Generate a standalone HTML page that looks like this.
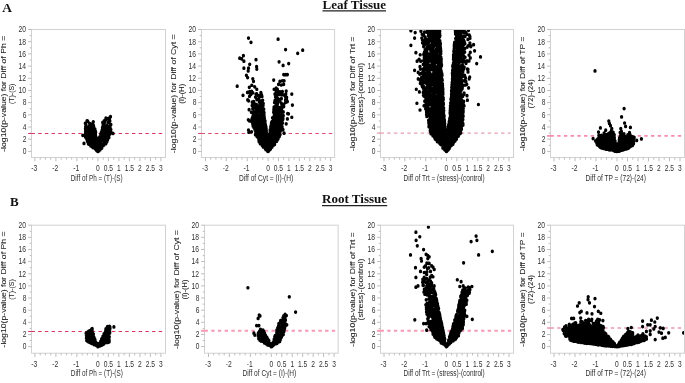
<!DOCTYPE html><html><head><meta charset="utf-8"><title>Volcano plots</title>
<style>html,body{margin:0;padding:0;background:#fff}svg{display:block}text{font-family:"Liberation Sans",sans-serif;fill:#303030}.yl{fill:#222;stroke:#222;stroke-width:0.07px}.t{font-family:"Liberation Serif",serif;font-weight:bold;fill:#111}</style></head><body>
<svg width="685" height="383" viewBox="0 0 685 383">
<rect width="685" height="383" fill="#fff"/>
<g>
<rect x="31.5" y="29.5" width="134" height="128" fill="#fff" stroke="#d2d2d2" stroke-width="1"/>
<path d="M28.1 151.4h3.4M29.7 145.3h1.8M28.1 139.2h3.4M29.7 133.1h1.8M28.1 127h3.4M29.7 120.9h1.8M28.1 114.8h3.4M29.7 108.7h1.8M28.1 102.6h3.4M29.7 96.5h1.8M28.1 90.5h3.4M29.7 84.4h1.8M28.1 78.3h3.4M29.7 72.2h1.8M28.1 66.1h3.4M29.7 60h1.8M28.1 53.9h3.4M29.7 47.8h1.8M28.1 41.7h3.4M29.7 35.6h1.8M28.1 29.5h3.4M34.9 157.5v3.8M40.2 157.5v2.2M45.4 157.5v2.2M50.7 157.5v2.2M55.9 157.5v3.8M61.2 157.5v2.2M66.4 157.5v2.2M71.7 157.5v2.2M76.9 157.5v3.8M82.2 157.5v2.2M87.4 157.5v2.2M92.7 157.5v2.2M97.9 157.5v3.8M103.2 157.5v2.2M108.4 157.5v3.8M113.7 157.5v2.2M118.9 157.5v3.8M124.2 157.5v2.2M129.4 157.5v3.8M134.7 157.5v2.2M139.9 157.5v3.8M145.2 157.5v2.2M150.4 157.5v3.8M155.7 157.5v2.2M160.9 157.5v3.8" stroke="#bdbdbd" stroke-width="1" fill="none"/>
<text x="26.5" y="154.2" font-size="9.6" text-anchor="end" textLength="3.7" lengthAdjust="spacingAndGlyphs">0</text>
<text x="26.5" y="142" font-size="9.6" text-anchor="end" textLength="3.7" lengthAdjust="spacingAndGlyphs">2</text>
<text x="26.5" y="129.8" font-size="9.6" text-anchor="end" textLength="3.7" lengthAdjust="spacingAndGlyphs">4</text>
<text x="26.5" y="117.6" font-size="9.6" text-anchor="end" textLength="3.7" lengthAdjust="spacingAndGlyphs">6</text>
<text x="26.5" y="105.4" font-size="9.6" text-anchor="end" textLength="3.7" lengthAdjust="spacingAndGlyphs">8</text>
<text x="26.1" y="93.3" font-size="9.6" text-anchor="end" textLength="7.5" lengthAdjust="spacingAndGlyphs">10</text>
<text x="26.1" y="81.1" font-size="9.6" text-anchor="end" textLength="7.5" lengthAdjust="spacingAndGlyphs">12</text>
<text x="26.1" y="68.9" font-size="9.6" text-anchor="end" textLength="7.5" lengthAdjust="spacingAndGlyphs">14</text>
<text x="26.1" y="56.7" font-size="9.6" text-anchor="end" textLength="7.5" lengthAdjust="spacingAndGlyphs">16</text>
<text x="26.1" y="44.5" font-size="9.6" text-anchor="end" textLength="7.5" lengthAdjust="spacingAndGlyphs">18</text>
<text x="26.1" y="32.3" font-size="9.6" text-anchor="end" textLength="7.5" lengthAdjust="spacingAndGlyphs">20</text>
<text x="31.3" y="171" font-size="9.6" textLength="6" lengthAdjust="spacingAndGlyphs">-3</text>
<text x="52.3" y="171" font-size="9.6" textLength="6" lengthAdjust="spacingAndGlyphs">-2</text>
<text x="73.3" y="171" font-size="9.6" textLength="6" lengthAdjust="spacingAndGlyphs">-1</text>
<text x="96" y="171" font-size="9.6" textLength="3.7" lengthAdjust="spacingAndGlyphs">0</text>
<text x="103.7" y="171" font-size="9.6" textLength="9.3" lengthAdjust="spacingAndGlyphs">0.5</text>
<text x="117" y="171" font-size="9.6" textLength="3.7" lengthAdjust="spacingAndGlyphs">1</text>
<text x="124.7" y="171" font-size="9.6" textLength="9.3" lengthAdjust="spacingAndGlyphs">1.5</text>
<text x="138" y="171" font-size="9.6" textLength="3.7" lengthAdjust="spacingAndGlyphs">2</text>
<text x="145.7" y="171" font-size="9.6" textLength="9.3" lengthAdjust="spacingAndGlyphs">2.5</text>
<text x="159" y="171" font-size="9.6" textLength="3.7" lengthAdjust="spacingAndGlyphs">3</text>
<text x="70.8" y="180.7" font-size="9.6" textLength="51.8" lengthAdjust="spacingAndGlyphs">Diff of Ph = (T)-(S)</text>
<text transform="translate(5.5 93.8) rotate(-90)" class="yl" x="-58" y="0" font-size="6.5" textLength="116" lengthAdjust="spacingAndGlyphs">-log10(p-value) for Diff of Ph =</text>
<text transform="translate(13.7 93.8) rotate(-90)" class="yl" x="-10.2" y="0" font-size="6.5" textLength="20.4" lengthAdjust="spacingAndGlyphs">(T)-(S)</text>
<path d="M28.1 133.5H31.5M31.5 133.5H165.5" stroke="#d8345f" stroke-width="1.0" stroke-dasharray="3.4 3.3" fill="none"/>
<clipPath id="cT1"><rect x="32" y="30" width="133" height="127"/></clipPath>
<g clip-path="url(#cT1)"><path transform="scale(1 1.12)" d="M87.8 117.7h0M88 113.9h0M93.4 112.9h0M89 115.7h0M85.2 120.3h0M87.1 120.1h0M93.9 113.8h0M94.3 126.9h0M91.8 130.5h0M91.8 125.1h0M88.3 128.2h0M93.7 128.6h0M90.9 126.6h0M94.6 117.9h0M95.5 119.8h0M88.7 125.5h0M86.8 123.2h0M87.4 126.2h0M90.7 124.6h0M89.5 119.6h0M93.4 123.9h0M91.8 123.7h0M94.8 131.8h0M95.8 132h0M90.4 115.5h0M96.8 131.7h0M86.1 121.1h0M94.2 121.5h0M94.9 128.4h0M88 122.4h0M95.6 121.1h0M90.1 116.5h0M96.3 126.6h0M90.3 129.3h0M95.9 128.5h0M88.6 114.9h0M90.8 119.4h0M86.8 116.8h0M89.1 122.5h0M90.9 128.2h0M96.5 123.1h0M92.5 131.2h0M93.8 130.7h0M91.5 120.3h0M89.7 118.2h0M93.1 125.7h0M96.4 123.9h0M86.1 112.3h0M95.9 130.3h0M92 126.5h0M92.5 121.5h0M95.3 124.4h0M91.9 122.6h0M90.7 114h0M97.3 133.2h0M93.7 117.4h0M96.5 130.9h0M96.2 133.5h0M85.6 113.1h0M85.6 116h0M88.8 126.6h0M93.3 115.6h0M93.9 116.4h0M91.8 129.5h0M92.1 111.3h0M92 115.2h0M96.7 125.3h0M91.7 119h0M88.5 123.1h0M85.5 119.4h0M92.7 122.3h0M92 128.4h0M93.5 129.7h0M88.5 121.5h0M90.8 130.3h0M94.1 122.7h0M97.7 134.2h0M92.2 113.4h0M93.2 119.2h0M88.9 128.8h0M95.8 125.6h0M89.6 114h0M90.8 111.3h0M95.4 127.7h0M89.1 124.6h0M87.7 108.1h0M93.3 131.9h0M90.6 123.2h0M94.2 119.9h0M89.5 127.3h0M88 115.8h0M85.5 122.4h0M91.3 121.9h0M85.9 110.8h0M87.1 121.7h0M89.1 113h0M97.2 128.4h0M85.4 115h0M89.8 128.6h0M89.6 112.2h0M85.5 117.6h0M92.6 118.4h0M92.6 130.2h0M92 117h0M88.1 120.2h0M87.5 119.3h0M95.4 122.1h0M92.9 109.7h0M95.3 129.2h0M97.4 130h0M92.8 124.9h0M90.8 125.5h0M87.4 125h0M93.3 127.8h0M86.7 124.2h0M88.7 116.9h0M89.6 121.7h0M94.7 130.6h0M94.4 120.7h0M90.7 118.1h0M90.2 120.7h0M97.5 132.3h0M95.4 117h0M94.9 115.2h0M94.7 126h0M89.9 125.2h0M86.6 114h0M95.7 118h0M96.7 134.4h0M86.7 117.8h0M93.5 112h0M107.8 122.8h0M109.9 116.3h0M107.1 126.2h0M102.1 121.5h0M104.9 118h0M102.6 124.7h0M99.5 130.9h0M103.9 129.5h0M100.4 130.5h0M99.4 125.4h0M107.6 124.8h0M102.6 118.3h0M108.5 114.8h0M102.3 130.6h0M109.1 120.8h0M105.8 128.3h0M106 106.6h0M101.7 123.4h0M110.9 115.7h0M101.8 132.2h0M104.3 127.4h0M109 119.8h0M103.9 116h0M99.1 129.8h0M104.9 121.2h0M105.5 120.2h0M103.3 128.8h0M109.9 108.1h0M99.6 122.5h0M98.7 133.5h0M98.9 131.8h0M100.6 127.8h0M101.2 128.7h0M103.7 117.9h0M104.7 124.1h0M103.4 113.1h0M106.7 116.8h0M110.8 117.7h0M100.7 120.1h0M110.1 118.3h0M107.8 118h0M99.2 123.4h0M105.2 122.4h0M102.5 113.8h0M106.1 118.4h0M102.6 125.8h0M103 111.8h0M104.1 111.8h0M103.8 114h0M100.7 124.3h0M102.5 114.9h0M102.3 119.9h0M99.7 124.2h0M103.3 119.9h0M104.1 119.1h0M106.8 122.7h0M105.5 125.4h0M108.9 122.8h0M100.7 129.6h0M109.3 117.4h0M105.8 116h0M101.2 121.9h0M106.5 127h0M108.3 121.9h0M107.5 119.4h0M105.6 123.1h0M103.3 121.4h0M103.1 116.8h0M98.7 132.6h0M101.9 129.6h0M98.4 126.8h0M107.9 121.1h0M105.2 117.1h0M100.1 133.6h0M105.7 115.1h0M99 127.5h0M101.4 126.1h0M108.9 118.6h0M104.2 120.1h0M101.1 118.7h0M101.8 117.2h0M101.5 131.2h0M108.2 116.8h0M97.9 131.4h0M106.6 113.6h0M110.3 114.7h0M103.4 125.2h0M109.5 112.8h0M98.9 134.7h0M109.4 106.6h0M110.5 111.8h0M100.4 125.2h0M103.8 122.2h0M104.6 128.5h0M105 126.6h0M110 119.5h0M103.9 110h0M102.6 123.4h0M105 109h0M106.6 121.6h0M107.3 123.9h0M108.5 105.7h0M109.6 115.3h0M98.7 126h0M107.1 111.8h0M99.7 132.4h0M108.6 113.7h0M102.2 115.8h0M106.6 120.7h0M104.1 125.8h0M107.4 115.7h0M82.8 120.8h0M113 119.1h0M110.5 104.2h0M109.5 106.3h0M105.9 105.5h0M108.4 109.1h0M102.7 109.3h0M110.9 111.2h0M93.3 108.8h0M87 108h0M85.3 110.1h0M84 128.1h0M89.5 110.1h0M104.2 108h0M97.9 135.2h0M97.9 134.5h0M97.1 134.4h0M98.7 134.4h0M97.9 133.7h0M96.2 133.7h0M99.6 133.7h0M95.4 132.9h0M100.4 132.9h0M97.9 132.9h0M96.9 132.5h0M99 132.5h0" stroke="#000" stroke-width="3.3" stroke-linecap="round" fill="none"/></g>
</g>
<g>
<rect x="201.5" y="29.5" width="133.1" height="128" fill="#fff" stroke="#d2d2d2" stroke-width="1"/>
<path d="M198.1 151.4h3.4M199.7 145.3h1.8M198.1 139.2h3.4M199.7 133.1h1.8M198.1 127h3.4M199.7 120.9h1.8M198.1 114.8h3.4M199.7 108.7h1.8M198.1 102.6h3.4M199.7 96.5h1.8M198.1 90.5h3.4M199.7 84.4h1.8M198.1 78.3h3.4M199.7 72.2h1.8M198.1 66.1h3.4M199.7 60h1.8M198.1 53.9h3.4M199.7 47.8h1.8M198.1 41.7h3.4M199.7 35.6h1.8M198.1 29.5h3.4M205.5 157.5v3.8M210.7 157.5v2.2M215.9 157.5v2.2M221.1 157.5v2.2M226.3 157.5v3.8M231.6 157.5v2.2M236.8 157.5v2.2M242 157.5v2.2M247.2 157.5v3.8M252.4 157.5v2.2M257.6 157.5v2.2M262.8 157.5v2.2M268.1 157.5v3.8M273.3 157.5v2.2M278.5 157.5v3.8M283.7 157.5v2.2M288.9 157.5v3.8M294.1 157.5v2.2M299.3 157.5v3.8M304.5 157.5v2.2M309.8 157.5v3.8M315 157.5v2.2M320.2 157.5v3.8M325.4 157.5v2.2M330.6 157.5v3.8" stroke="#bdbdbd" stroke-width="1" fill="none"/>
<text x="196.5" y="154.2" font-size="9.6" text-anchor="end" textLength="3.7" lengthAdjust="spacingAndGlyphs">0</text>
<text x="196.5" y="142" font-size="9.6" text-anchor="end" textLength="3.7" lengthAdjust="spacingAndGlyphs">2</text>
<text x="196.5" y="129.8" font-size="9.6" text-anchor="end" textLength="3.7" lengthAdjust="spacingAndGlyphs">4</text>
<text x="196.5" y="117.6" font-size="9.6" text-anchor="end" textLength="3.7" lengthAdjust="spacingAndGlyphs">6</text>
<text x="196.5" y="105.4" font-size="9.6" text-anchor="end" textLength="3.7" lengthAdjust="spacingAndGlyphs">8</text>
<text x="196.1" y="93.3" font-size="9.6" text-anchor="end" textLength="7.5" lengthAdjust="spacingAndGlyphs">10</text>
<text x="196.1" y="81.1" font-size="9.6" text-anchor="end" textLength="7.5" lengthAdjust="spacingAndGlyphs">12</text>
<text x="196.1" y="68.9" font-size="9.6" text-anchor="end" textLength="7.5" lengthAdjust="spacingAndGlyphs">14</text>
<text x="196.1" y="56.7" font-size="9.6" text-anchor="end" textLength="7.5" lengthAdjust="spacingAndGlyphs">16</text>
<text x="196.1" y="44.5" font-size="9.6" text-anchor="end" textLength="7.5" lengthAdjust="spacingAndGlyphs">18</text>
<text x="196.1" y="32.3" font-size="9.6" text-anchor="end" textLength="7.5" lengthAdjust="spacingAndGlyphs">20</text>
<text x="201.9" y="171" font-size="9.6" textLength="6" lengthAdjust="spacingAndGlyphs">-3</text>
<text x="222.8" y="171" font-size="9.6" textLength="6" lengthAdjust="spacingAndGlyphs">-2</text>
<text x="243.6" y="171" font-size="9.6" textLength="6" lengthAdjust="spacingAndGlyphs">-1</text>
<text x="266.2" y="171" font-size="9.6" textLength="3.7" lengthAdjust="spacingAndGlyphs">0</text>
<text x="273.8" y="171" font-size="9.6" textLength="9.3" lengthAdjust="spacingAndGlyphs">0.5</text>
<text x="287" y="171" font-size="9.6" textLength="3.7" lengthAdjust="spacingAndGlyphs">1</text>
<text x="294.7" y="171" font-size="9.6" textLength="9.3" lengthAdjust="spacingAndGlyphs">1.5</text>
<text x="307.9" y="171" font-size="9.6" textLength="3.7" lengthAdjust="spacingAndGlyphs">2</text>
<text x="315.5" y="171" font-size="9.6" textLength="9.3" lengthAdjust="spacingAndGlyphs">2.5</text>
<text x="328.7" y="171" font-size="9.6" textLength="3.7" lengthAdjust="spacingAndGlyphs">3</text>
<text x="239" y="180.7" font-size="9.6" textLength="54.2" lengthAdjust="spacingAndGlyphs">Diff of Cyt = (I)-(H)</text>
<text transform="translate(175.5 93.8) rotate(-90)" class="yl" x="-59.4" y="0" font-size="6.5" textLength="118.8" lengthAdjust="spacingAndGlyphs">-log10(p-value) for Diff of Cyt =</text>
<text transform="translate(183.7 93.8) rotate(-90)" class="yl" x="-10" y="0" font-size="6.5" textLength="20" lengthAdjust="spacingAndGlyphs">(I)-(H)</text>
<path d="M198.1 133.5H201.5M201.5 133.5H334.6" stroke="#dc4a6e" stroke-width="1.0" stroke-dasharray="3.4 3.3" fill="none"/>
<clipPath id="cT2"><rect x="202" y="30" width="132.1" height="127"/></clipPath>
<g clip-path="url(#cT2)"><path transform="scale(1 1.12)" d="M265.6 112h0M262.9 109.7h0M263.8 128h0M264.4 118.6h0M264 102.2h0M265.2 127.2h0M257 111.8h0M259.1 126.5h0M267.9 127.8h0M265.8 129h0M258.8 106.9h0M267.1 120.2h0M254.2 106.6h0M263.6 111.4h0M257.8 98.1h0M267.6 132h0M263.1 120.2h0M262.8 98.8h0M258.3 117.1h0M258.5 105.5h0M259.3 103.9h0M263.7 130.4h0M264.4 107h0M260.2 100.3h0M261.3 117.9h0M255.4 120.3h0M261.8 108.9h0M262.1 117.1h0M265.1 108h0M264.2 114.1h0M254.7 111.2h0M264 112.8h0M266.2 114.8h0M262.5 122.6h0M260.6 91.3h0M259.2 94.7h0M255.8 93.2h0M265 113.4h0M265.2 115.7h0M262.9 112.3h0M254.7 114.5h0M264.1 110.3h0M258.1 110.8h0M257 121.8h0M266 119.6h0M267.4 128.5h0M261.4 94.1h0M255.7 113.4h0M263.1 126.6h0M266.7 131.7h0M266.4 116.7h0M268 134.1h0M263.2 116.3h0M258.8 125.1h0M257.3 113.8h0M257 118.5h0M265.4 121.6h0M266 113.4h0M255.7 110.5h0M266.7 121.2h0M267.1 124.9h0M263.1 118.1h0M262 97.7h0M260.5 98.4h0M258.2 116h0M264.8 109.5h0M259.7 107.2h0M267 129.9h0M262.8 107.1h0M263.7 107.7h0M264.4 120h0M258.8 118.5h0M262.7 89.6h0M267.1 132.8h0M258.9 124h0M258.6 122.7h0M257.3 109.5h0M264.4 124.2h0M263 103.7h0M263.1 94.2h0M266.2 125.5h0M259 112.9h0M260.8 113.5h0M267.4 126.9h0M262.1 91.3h0M254.2 108.6h0M255.4 109.2h0M265.2 131.7h0M255.5 108.3h0M261.1 119.9h0M257.5 100.4h0M264.2 117.2h0M260.2 106.3h0M255.4 104.1h0M263.8 97.4h0M267.7 125.8h0M260.3 128.3h0M264.1 115.2h0M252.4 105.2h0M254 92.3h0M258.2 114.9h0M262 95.6h0M267.2 123.1h0M251.7 81.6h0M262 86.1h0M263.4 125.9h0M256.1 105.5h0M255.7 118.9h0M265.2 110.4h0M261.8 125.5h0M264.8 128.2h0M255.7 99h0M259.9 92h0M260.5 104.4h0M259.7 115.6h0M257.6 122.4h0M256.8 99.8h0M262.2 93.4h0M253.8 99.8h0M261.2 90.6h0M263.6 99.5h0M257.2 105.5h0M254.9 103.3h0M263.2 131.2h0M260.1 116.9h0M266.5 128.1h0M266.4 118.5h0M260.1 111.9h0M255.5 86.7h0M261.4 100.7h0M257.5 102.4h0M258.7 109.3h0M260.6 110.1h0M267.2 124.1h0M257 95.1h0M262.4 113.3h0M255.2 116.4h0M261.7 107.9h0M267.8 135.1h0M260.4 102.4h0M266.1 123.1h0M265.5 123.8h0M254.5 107.5h0M256.5 109h0M261.9 110.1h0M259.7 97.3h0M263.9 104.9h0M255.8 112.5h0M259.9 95.8h0M259.2 98.4h0M257.6 96h0M264.2 122.5h0M265.5 126.4h0M262.2 105.2h0M256.8 93.7h0M263.9 121.2h0M254.8 115.4h0M259.5 119.3h0M261.6 99.3h0M262.6 101.1h0M257.2 107h0M259.3 85.3h0M263 129.4h0M265.3 130.2h0M252.9 103.9h0M263.3 101.7h0M262.2 128.7h0M264.4 105.5h0M265.2 118.1h0M258 111.7h0M255.7 114.4h0M261.5 84.5h0M256.8 88.9h0M257.1 117h0M256.7 83.8h0M267.6 131h0M267.9 129.3h0M262.4 124.3h0M258.7 104.6h0M252.7 110.8h0M266.1 133.6h0M262.1 114.1h0M258.2 120.7h0M256.9 119.7h0M260.4 84.8h0M261.1 103.7h0M252.1 108.8h0M261.9 120.4h0M256.2 115.1h0M253 112.4h0M265.1 122.6h0M261 83.7h0M261.3 85.4h0M262.2 102h0M258.6 86h0M261.5 116.5h0M255.1 96.1h0M256 101.3h0M257.9 121.6h0M263 117.1h0M256.8 97.7h0M262.3 115.4h0M260.6 121.3h0M257.1 115.3h0M253.9 113.9h0M259.3 89.5h0M258.1 118h0M260.8 93.2h0M264.2 103.8h0M265.3 132.9h0M258.9 121.6h0M252.7 97.1h0M253.3 109.5h0M260.2 94.4h0M262.4 110.9h0M260.9 82.6h0M253.3 107.7h0M261.3 126.5h0M259.6 110.7h0M253.7 111.7h0M254.7 105.2h0M255.1 107h0M259.1 116.3h0M264.1 100.5h0M259.3 91h0M253.7 90.7h0M267 133.9h0M256.5 102.2h0M259.2 86.9h0M268 133h0M261.5 92.5h0M263.3 92.4h0M262.3 129.9h0M261.1 124h0M264.4 129.6h0M253.2 94.6h0M253.1 101h0M260 112.9h0M275.6 105.1h0M282.1 113.8h0M272.7 113.4h0M270.8 124.4h0M276.5 115.3h0M275.9 111.3h0M278 122.2h0M278.9 83.2h0M269.1 127.1h0M278.1 123.9h0M270.2 127.6h0M272 111.3h0M280.4 99.6h0M276.6 126.2h0M274.6 129h0M275.2 116.6h0M278.7 118.1h0M281.9 93.2h0M273.8 126.3h0M278.5 119.9h0M277.6 92.5h0M283.3 99.9h0M271.5 109.4h0M279 105.3h0M274.8 113.5h0M273.8 97.6h0M279.9 118.4h0M280.1 88.7h0M281 101.7h0M270.6 120.8h0M271.7 129.2h0M271 116.2h0M275.8 121h0M271.6 121.4h0M280.8 112.9h0M274 95.7h0M269.9 133.4h0M274.9 112.1h0M271 129.8h0M271.7 127h0M277.4 117.4h0M279.3 120.9h0M270 118.1h0M273.1 116.3h0M275.3 110h0M270.9 128.8h0M280.4 102.5h0M278.2 116.1h0M271.8 112.7h0M268.5 124.4h0M273.5 105.8h0M272.6 118.2h0M276.2 119.8h0M282 108.5h0M279.2 103.8h0M274.1 121.8h0M271.4 125.5h0M275.2 106.3h0M281.8 84.2h0M275.5 86.6h0M269.6 119.9h0M274.7 126.9h0M281.8 95.7h0M276 82.5h0M278.9 115.4h0M277.3 125h0M268.8 122.4h0M282.1 113h0M271.7 122.4h0M274.6 104.2h0M276.6 86.2h0M270.1 115.9h0M269.9 122.4h0M268.8 129h0M278 98.1h0M271.7 118.5h0M274.8 120.5h0M275.6 123.5h0M278.9 112.6h0M274.2 118.1h0M277.7 109.1h0M276.1 84.4h0M273.7 109.8h0M269.1 126.3h0M272.9 125.3h0M280.4 116.9h0M275.3 114.9h0M274.7 108.3h0M279.2 107.7h0M276.4 90h0M274 116h0M271.8 119.4h0M268.8 131.3h0M273.9 110.8h0M279.2 101.4h0M276.4 94.8h0M272.9 124.2h0M275.9 107.3h0M270.7 113.3h0M274.7 100.1h0M281.4 88.1h0M281.7 97.2h0M273.3 112.7h0M270.9 112.4h0M272.5 105.2h0M278.2 112h0M281.6 110.2h0M278 113.6h0M272 116.2h0M277.2 82.8h0M279.2 111.6h0M277.7 91.6h0M279.6 109.7h0M273.6 100.2h0M277.8 88h0M280.7 98h0M277.9 110.1h0M277.6 83.6h0M271.4 110.6h0M280.1 111.8h0M272.6 123.3h0M280.8 104h0M278.4 99.6h0M274.9 95.5h0M269.8 129.1h0M274.2 115.1h0M272.8 114.5h0M270.4 123.7h0M270.8 117.7h0M276.5 99.6h0M275.6 117.9h0M273.1 121.5h0M275.9 113h0M276.4 103.9h0M281.3 92.1h0M279.3 119.5h0M282.5 109.8h0M281.3 115h0M270.3 118.9h0M279 110.5h0M274.9 89.8h0M280.1 120.2h0M281.6 111.1h0M278.2 89.4h0M279.1 96.2h0M277 85.4h0M276.5 93.2h0M273.1 108.4h0M273.3 129.6h0M274.2 102.9h0M278.5 114.5h0M276.2 81.4h0M279.8 90.1h0M277.6 121.2h0M279.8 116.1h0M278.7 109.6h0M278.1 106.5h0M269.7 125h0M276.7 118.2h0M278.3 123h0M280.4 114.7h0M276.7 96.5h0M274.1 96.6h0M279.6 114.1h0M270.1 116.9h0M277.1 120.3h0M280.1 103.5h0M276.6 110.1h0M270.8 114.1h0M275.3 126.2h0M275.8 100.8h0M276.4 106.5h0M275.7 92.1h0M275.5 98.1h0M269.4 128.1h0M283 105.3h0M272 131.3h0M276.4 112.2h0M273.1 127.4h0M271.6 115.5h0M268.9 123.5h0M276.4 87.5h0M273.9 106.5h0M279.2 106.2h0M274.8 122.5h0M280.1 106.4h0M277.6 103.8h0M277.1 123.9h0M277 116.4h0M277.8 95.3h0M273.1 111.6h0M268.8 130.2h0M277.7 115.4h0M275.7 121.9h0M282.4 107.2h0M270.1 131.2h0M273.4 119.2h0M276.8 101h0M275 124.5h0M283.3 103.2h0M281.1 116.2h0M273.8 99.1h0M276.6 122.7h0M281.9 94.6h0M277 107.3h0M280.6 108.5h0M282.9 106.5h0M280.1 82.1h0M283.6 84.8h0M270.3 125.7h0M274.2 116.9h0M273 120.7h0M272.9 128.7h0M275.8 90.7h0M279.2 108.6h0M274.3 119.3h0M279.3 84.3h0M276.4 83.6h0M271.5 123.6h0M270.9 115h0M279.3 121.8h0M273.3 122.7h0M274.5 91.5h0M272.1 108.5h0M275.5 102.1h0M280.6 95.8h0M252.2 91.2h0M248.3 107h0M247.5 82.5h0M249.6 108h0M251.4 100.3h0M252.1 94.3h0M252 106h0M248.6 90h0M248.8 118.1h0M249.5 86h0M249.1 97.9h0M247.7 89.2h0M250.8 84.3h0M251.5 117.7h0M249.5 82.7h0M285.5 91.5h0M287.4 90.7h0M283.7 93.2h0M286.2 110.6h0M285.3 85.6h0M283.8 95.2h0M286.7 87h0M287.6 101.4h0M288.5 101.6h0M286.4 88h0M283 115.7h0M285.6 86.9h0M287.4 106.2h0M286.8 89.7h0M286.2 81.3h0M285.5 89.4h0M285.8 84h0M248.5 34h0M251 37.8h0M239.7 51.9h0M241.6 52.5h0M243.4 49.7h0M243.9 54.6h0M256 53.3h0M249.7 57.4h0M243.9 60.9h0M248.5 60.9h0M256.6 59.5h0M256.8 61.7h0M248.2 63.3h0M246.4 67.2h0M247.6 69.3h0M252.8 70.4h0M253.5 72.6h0M237.2 76.9h0M251.8 76.1h0M249.3 78h0M254.7 77.5h0M256.8 79.7h0M249.7 81.8h0M252.8 82.9h0M243 85.1h0M256 84h0M248.5 116.1h0M278.1 35h0M285.6 44.3h0M302.7 44.8h0M297.7 47.6h0M279.1 55.2h0M288.7 56.8h0M283.1 58.4h0M283.7 66.6h0M285.8 66.6h0M287.4 66.6h0M273.7 71.5h0M279.9 72.6h0M282.4 72.1h0M284.1 72.1h0M278.5 75.3h0M281.2 75.9h0M283.7 75.3h0M274.1 79.7h0M276.2 78.6h0M277.4 79.7h0M278.5 81.8h0M282.4 81.8h0M291.8 84h0M274.9 84h0M277.4 84.6h0M281.2 84.6h0M292.4 93.8h0M291.8 104.7h0M284.1 118.9h0M268.1 135.2h0M268.1 134.5h0M267.2 134.4h0M268.9 134.4h0M268.1 133.7h0M266.4 133.7h0M269.7 133.7h0M265.5 132.9h0M270.6 132.9h0M268.1 132.9h0M267 132.5h0M269.1 132.5h0" stroke="#000" stroke-width="3.3" stroke-linecap="round" fill="none"/></g>
</g>
<g>
<rect x="380.5" y="29.5" width="133" height="128" fill="#fff" stroke="#d2d2d2" stroke-width="1"/>
<path d="M377.1 151.4h3.4M378.7 145.3h1.8M377.1 139.2h3.4M378.7 133.1h1.8M377.1 127h3.4M378.7 120.9h1.8M377.1 114.8h3.4M378.7 108.7h1.8M377.1 102.6h3.4M378.7 96.5h1.8M377.1 90.5h3.4M378.7 84.4h1.8M377.1 78.3h3.4M378.7 72.2h1.8M377.1 66.1h3.4M378.7 60h1.8M377.1 53.9h3.4M378.7 47.8h1.8M377.1 41.7h3.4M378.7 35.6h1.8M377.1 29.5h3.4M384 157.5v3.8M389.2 157.5v2.2M394.4 157.5v2.2M399.6 157.5v2.2M404.8 157.5v3.8M410 157.5v2.2M415.2 157.5v2.2M420.5 157.5v2.2M425.7 157.5v3.8M430.9 157.5v2.2M436.1 157.5v2.2M441.3 157.5v2.2M446.5 157.5v3.8M451.7 157.5v2.2M456.9 157.5v3.8M462.1 157.5v2.2M467.3 157.5v3.8M472.5 157.5v2.2M477.8 157.5v3.8M483 157.5v2.2M488.2 157.5v3.8M493.4 157.5v2.2M498.6 157.5v3.8M503.8 157.5v2.2M509 157.5v3.8" stroke="#bdbdbd" stroke-width="1" fill="none"/>
<text x="375.5" y="154.2" font-size="9.6" text-anchor="end" textLength="3.7" lengthAdjust="spacingAndGlyphs">0</text>
<text x="375.5" y="142" font-size="9.6" text-anchor="end" textLength="3.7" lengthAdjust="spacingAndGlyphs">2</text>
<text x="375.5" y="129.8" font-size="9.6" text-anchor="end" textLength="3.7" lengthAdjust="spacingAndGlyphs">4</text>
<text x="375.5" y="117.6" font-size="9.6" text-anchor="end" textLength="3.7" lengthAdjust="spacingAndGlyphs">6</text>
<text x="375.5" y="105.4" font-size="9.6" text-anchor="end" textLength="3.7" lengthAdjust="spacingAndGlyphs">8</text>
<text x="375.1" y="93.3" font-size="9.6" text-anchor="end" textLength="7.5" lengthAdjust="spacingAndGlyphs">10</text>
<text x="375.1" y="81.1" font-size="9.6" text-anchor="end" textLength="7.5" lengthAdjust="spacingAndGlyphs">12</text>
<text x="375.1" y="68.9" font-size="9.6" text-anchor="end" textLength="7.5" lengthAdjust="spacingAndGlyphs">14</text>
<text x="375.1" y="56.7" font-size="9.6" text-anchor="end" textLength="7.5" lengthAdjust="spacingAndGlyphs">16</text>
<text x="375.1" y="44.5" font-size="9.6" text-anchor="end" textLength="7.5" lengthAdjust="spacingAndGlyphs">18</text>
<text x="375.1" y="32.3" font-size="9.6" text-anchor="end" textLength="7.5" lengthAdjust="spacingAndGlyphs">20</text>
<text x="380.4" y="171" font-size="9.6" textLength="6" lengthAdjust="spacingAndGlyphs">-3</text>
<text x="401.2" y="171" font-size="9.6" textLength="6" lengthAdjust="spacingAndGlyphs">-2</text>
<text x="422.1" y="171" font-size="9.6" textLength="6" lengthAdjust="spacingAndGlyphs">-1</text>
<text x="444.6" y="171" font-size="9.6" textLength="3.7" lengthAdjust="spacingAndGlyphs">0</text>
<text x="452.2" y="171" font-size="9.6" textLength="9.3" lengthAdjust="spacingAndGlyphs">0.5</text>
<text x="465.5" y="171" font-size="9.6" textLength="3.7" lengthAdjust="spacingAndGlyphs">1</text>
<text x="473.1" y="171" font-size="9.6" textLength="9.3" lengthAdjust="spacingAndGlyphs">1.5</text>
<text x="486.3" y="171" font-size="9.6" textLength="3.7" lengthAdjust="spacingAndGlyphs">2</text>
<text x="493.9" y="171" font-size="9.6" textLength="9.3" lengthAdjust="spacingAndGlyphs">2.5</text>
<text x="507.1" y="171" font-size="9.6" textLength="3.7" lengthAdjust="spacingAndGlyphs">3</text>
<text x="403.5" y="180.7" font-size="9.6" textLength="81.2" lengthAdjust="spacingAndGlyphs">Diff of Trt = (stress)-(control)</text>
<text transform="translate(354.5 93.8) rotate(-90)" class="yl" x="-57.2" y="0" font-size="6.5" textLength="114.5" lengthAdjust="spacingAndGlyphs">-log10(p-value) for Diff of Trt =</text>
<text transform="translate(362.7 93.8) rotate(-90)" class="yl" x="-30.9" y="0" font-size="6.5" textLength="61.7" lengthAdjust="spacingAndGlyphs">(stress)-(control)</text>
<path d="M377.1 133.1H380.5M380.5 133.1H510.5" stroke="#e79fb0" stroke-width="1.4" stroke-dasharray="3.4 3.3" fill="none"/>
<clipPath id="cT3"><rect x="381" y="30" width="132" height="127"/></clipPath>
<g clip-path="url(#cT3)"><path transform="scale(1 1.12)" d="M446.1 127h0M437 51.5h0M442.1 67.2h0M443.3 122.9h0M433.5 60.6h0M442.8 113.5h0M423.8 40h0M435.9 79.7h0M427.6 76.8h0M440.7 44.5h0M441.1 101.1h0M434.1 37.7h0M432.1 86.2h0M445.4 121h0M431.4 51.3h0M428.6 107.5h0M439.9 78.8h0M437.3 126.4h0M441.4 119.3h0M440.8 95.7h0M434.9 109.6h0M443.3 115.3h0M434.8 70.5h0M431.7 35.8h0M425.7 61.2h0M440.1 91.7h0M440.6 83.4h0M437.3 104.8h0M429.9 113.6h0M445.1 117.4h0M432.8 106.9h0M435.1 35.1h0M436.9 119.5h0M439 106.7h0M431.5 72.9h0M430.8 118.3h0M429.9 78.4h0M440.4 114.1h0M437.6 94.2h0M438.4 126.6h0M431.4 70h0M433.4 42.2h0M440.2 116.2h0M438.2 52.6h0M424.5 28.6h0M431.9 115.2h0M433.2 40.5h0M434.5 27.5h0M425.2 51h0M446.3 132.4h0M438.5 70.6h0M441.4 99.7h0M432.5 114.4h0M437.9 82.4h0M434.6 93.8h0M445.1 118.6h0M441.8 98.9h0M435.3 111.9h0M441.8 97.7h0M445 113h0M442.8 105.9h0M442.8 78.8h0M442.9 79.8h0M425.9 46h0M441.6 104.9h0M428.8 91.7h0M436.3 65.7h0M433.3 84.2h0M439.4 24.8h0M442.7 88.3h0M440.8 85.1h0M439.5 95.4h0M443.7 96.4h0M433 119.3h0M435 116.8h0M425.7 89.6h0M431.3 105.8h0M438 99.8h0M437.6 109.2h0M435.4 86.7h0M431.3 101.1h0M436.9 39h0M438.4 116.7h0M433.3 106h0M445.3 115.5h0M442.7 121.7h0M443.8 98.7h0M428.9 37.7h0M442.8 81.3h0M426.8 84.6h0M436.7 60.3h0M443.4 92.1h0M432 110.8h0M438.6 104.6h0M436.6 29.5h0M444.5 107.7h0M440.5 79.8h0M431.2 47.7h0M442.9 95.2h0M437 87.5h0M438.6 108.9h0M426.9 91.5h0M437.3 28.2h0M444 130.4h0M436.3 34.2h0M445.6 130.7h0M425.2 47.3h0M437.5 42.9h0M441.3 129.2h0M429.1 63.8h0M435.7 89.7h0M428.1 52.3h0M443.3 87.4h0M440.9 50.9h0M444.8 110.4h0M438.7 54.8h0M432.7 46.9h0M426.2 69h0M438.9 90.6h0M441.6 102.3h0M432 90h0M429 75h0M424.3 66.3h0M437.8 120.8h0M427.6 92.7h0M440.9 104h0M443.9 104.7h0M442.7 118h0M444.2 103.6h0M441.1 127h0M423.7 54.1h0M439.2 45.5h0M443.7 102h0M430.1 62h0M441.8 94.2h0M442.3 116.1h0M440.1 98.4h0M439.6 26.9h0M436.5 43.4h0M445.7 125.1h0M433.6 98.7h0M429.3 92.3h0M434.3 47.3h0M441.5 107.1h0M435.1 45.9h0M427.9 95h0M435 104.1h0M440.4 103.1h0M433.1 30.9h0M433.8 35h0M431.1 44h0M440.8 77.1h0M438.9 120.5h0M438.6 122.7h0M432.6 102.3h0M440.6 110.6h0M439.7 80.8h0M434.6 91.3h0M436.6 106.9h0M439.7 68.2h0M441.3 63.8h0M443.2 130.7h0M433.3 69.2h0M436.9 48.3h0M438.1 25.2h0M432.5 104h0M433.4 90.5h0M426.5 100.2h0M427.9 57h0M436.2 75.1h0M433.9 77.6h0M441.2 56.4h0M442 70.5h0M439.5 110.6h0M428.4 81.6h0M437.5 74.3h0M431.9 70.9h0M440.4 42.1h0M434.9 113.6h0M436.4 30.9h0M441.9 77.1h0M445.3 125.8h0M425.7 93.6h0M442.3 100.1h0M444.2 124.7h0M436.3 78.8h0M444.8 114.5h0M444.4 118.1h0M438.2 57.7h0M423.5 73.7h0M439.8 50.1h0M435.4 40.3h0M441.6 58.5h0M440.4 93.4h0M443.9 119.7h0M427.2 90.5h0M440.8 62.3h0M440.4 38.8h0M433.6 81.7h0M422.4 75.3h0M443.7 116.9h0M431.7 61.4h0M431.2 29.1h0M439.5 74h0M444.2 112.1h0M427.7 54.6h0M435.5 87.8h0M433.6 62.9h0M445.3 123.1h0M433.8 114.3h0M430.5 98.2h0M434.1 111h0M441.3 52.8h0M430.2 82h0M435.9 117.6h0M428.7 30h0M431.3 36.6h0M439.5 121.3h0M443.2 114.2h0M430.4 42.6h0M441.7 73.2h0M439.6 84.8h0M437.8 119.1h0M434 97.3h0M439.7 28.2h0M433.2 110.7h0M441.5 57.4h0M432.1 28.9h0M436.5 101.9h0M434.3 51.7h0M435.3 115.1h0M432.5 37.5h0M446.3 133.5h0M423.3 78.8h0M434.3 108.5h0M442.3 107.8h0M438.3 106.1h0M446.5 129h0M434.9 83.1h0M435.5 51.7h0M436.3 97.8h0M431.5 88.8h0M435 81.8h0M443.5 97.8h0M432.4 39h0M442.9 112.3h0M437.5 50.6h0M436.8 94.6h0M430.1 108.4h0M431.5 27.9h0M441.9 92.1h0M433.2 43.9h0M429.2 82.8h0M442.3 71.6h0M436.4 122.8h0M438.7 68.9h0M433.9 76.6h0M433.5 113.3h0M435.4 122.4h0M441.5 69.5h0M429 98.7h0M443 123.9h0M444.6 122h0M423.3 61.6h0M427.8 99.3h0M440.4 81.7h0M432.2 67.9h0M436.5 108.2h0M443.3 89h0M432.3 58.5h0M444.1 106.1h0M435.1 26.4h0M441.6 120.4h0M429 65.8h0M441.6 75.5h0M427.8 102.5h0M439.9 104.8h0M440.9 59.4h0M436.9 82h0M426.8 42.4h0M438.9 102.9h0M444.1 109.6h0M442.9 82.5h0M438.3 102h0M430.7 80.4h0M425.3 34h0M424.2 51h0M439.9 86.3h0M445.4 128.9h0M433.4 45.4h0M439.6 41h0M434.3 117.4h0M423.7 48.6h0M441.6 122h0M443.4 93.3h0M429.3 93.3h0M439.6 38.1h0M427.5 43.8h0M430.5 54.2h0M429 51.9h0M441.5 89.4h0M432.8 34.8h0M423.2 57.4h0M429.6 76.8h0M429.7 59.6h0M441.2 65.1h0M444.4 132.9h0M441.6 114.2h0M439.9 92.6h0M440.6 43.6h0M436.4 47.2h0M442.7 104h0M439.6 100.7h0M422.4 71.2h0M429.3 51h0M439.8 37.2h0M429.2 60.7h0M432.8 88.6h0M424.7 94.1h0M431.7 111.7h0M433.4 120.1h0M437.1 103.3h0M433.2 66.8h0M443.3 109h0M433.6 91.6h0M427.6 75.6h0M437.3 106.1h0M435.1 29.6h0M437.2 37.4h0M427.1 96.3h0M440.1 122.6h0M445.3 132.4h0M438 78.7h0M429.9 71.9h0M425.9 88.7h0M432.1 56.1h0M429 100.3h0M426.7 95.4h0M427.3 27.9h0M437.3 121.7h0M437.1 61.9h0M432.1 95.5h0M431.4 93.7h0M440.4 123.9h0M440.7 111.8h0M425.2 33.2h0M440 31.7h0M431.4 74.5h0M438.3 85.4h0M432.3 54.5h0M437.7 123.1h0M445.9 122.2h0M439.1 112h0M440.1 49.1h0M441.5 68.6h0M439.4 60.2h0M429.7 90.4h0M438.6 99.1h0M439.7 44.1h0M438.6 39.5h0M431.3 104.6h0M438.9 67.2h0M423.4 85h0M442.7 127.5h0M433.2 112.2h0M442.8 91h0M431.7 109.6h0M441.2 55h0M433.7 49.7h0M438.5 27.8h0M440.2 125.6h0M436.4 50.2h0M439.7 127.8h0M439.2 61.6h0M430.6 33.5h0M441 92.2h0M434.6 85.9h0M425.6 71.9h0M437.4 40.1h0M444.2 115.8h0M439.7 32.9h0M431.6 102h0M437.5 112.9h0M430.3 100.1h0M430.1 85.8h0M429.2 36.9h0M424.9 80.1h0M440.6 94.2h0M436.8 55.9h0M441 97.1h0M443.4 107.2h0M440.8 109.6h0M443.3 110.2h0M440.9 45.9h0M438.5 79.6h0M430.2 116.3h0M424.6 49.4h0M436.8 73.5h0M432 118.7h0M442.5 74.8h0M435.1 59.2h0M426.5 102.3h0M436 92.4h0M435.1 106.1h0M441.2 82.6h0M422.3 77.3h0M435.5 38.1h0M434.5 56.9h0M439.8 66.3h0M427.3 88.7h0M433.2 105.1h0M442.1 123h0M442.5 111h0M443.2 99.8h0M430.4 92.1h0M434.4 80.8h0M438 113.6h0M437 115.1h0M429.7 112.7h0M438.5 124.3h0M426.3 70.6h0M442.5 77.7h0M425.7 38.6h0M440 118.6h0M440.3 40.1h0M442.4 90.1h0M434.2 39.5h0M443 84.1h0M442 117.1h0M431 119.4h0M440.4 75.3h0M438.5 112.7h0M440.8 91.2h0M427.3 72.5h0M430.6 103h0M430.1 74.5h0M428.8 35.4h0M425.2 55h0M440.1 106.8h0M425.1 44.5h0M440.9 51.7h0M432.3 97.3h0M434.7 31.7h0M427.9 83.5h0M444.3 127.2h0M435.4 64.9h0M434 106.8h0M438.7 125.2h0M435.9 61.3h0M439.9 71.2h0M445.4 128h0M442.4 108.6h0M434.9 53.7h0M440.4 58.6h0M429.8 68.3h0M438.9 32.3h0M438.4 44.1h0M440.7 54.1h0M433.5 48.7h0M430.3 106.9h0M425.2 66.8h0M435.4 95.6h0M434.9 96.5h0M437.5 29.6h0M435.5 78h0M440.3 112.9h0M425.6 97.2h0M423.2 82.5h0M434.9 97.5h0M439.9 82.7h0M433.7 96.5h0M439.3 57h0M431.3 87.2h0M438.6 96.4h0M423.9 80.7h0M435.6 119.2h0M437.5 91.4h0M431.3 34.2h0M430.2 101.5h0M432.2 100.2h0M426.5 37.3h0M437.3 26.8h0M439.3 102.1h0M443.2 125.5h0M434.9 62.9h0M435.1 107h0M432.1 26.3h0M433.9 32.8h0M431 99.3h0M433.7 64.9h0M429.4 89.1h0M444.4 106.9h0M434.3 122.4h0M432.9 43.1h0M441.9 65.8h0M425.8 36.1h0M428.5 40.3h0M424.1 57.2h0M426 53.5h0M434.6 60.2h0M434.5 112.6h0M429.8 26.8h0M434.7 79.7h0M436.7 66.7h0M425.5 74h0M440.1 52.5h0M440.1 55.5h0M433.1 83.3h0M441.3 88.1h0M436.1 71.3h0M442.7 85h0M442.5 119.6h0M443.5 118.7h0M429 30.8h0M442 111.8h0M440 90.2h0M427.2 86.7h0M433 35.9h0M428.7 109.1h0M430.3 25.7h0M431.9 79.9h0M444.1 120.9h0M444.1 123.1h0M438.5 118h0M440.5 70h0M438.8 26.2h0M430.2 69.4h0M437.6 96.2h0M428.3 59.2h0M427.4 68.7h0M435.8 72.2h0M431.1 79.2h0M442.6 101h0M441.3 80.3h0M432.2 117.7h0M439.5 79.9h0M440.1 63.2h0M433 85.7h0M441.9 106.3h0M442.5 86.3h0M432.1 92.8h0M430.2 110.8h0M438.8 72.5h0M439 53.1h0M441.8 74.3h0M438.7 34.6h0M441.8 103.3h0M432.3 33.5h0M439.6 126.6h0M442 124.3h0M426.4 56.9h0M435.3 98.9h0M429.7 28.2h0M436.3 110.8h0M437.9 103.8h0M435.9 114.1h0M425.8 87.6h0M424.3 82.4h0M437.8 67.3h0M435 32.8h0M427.1 94.4h0M440.2 99.5h0M443.6 100.7h0M438.1 84.6h0M441.8 118.5h0M441.9 115.1h0M431.1 62.1h0M424.7 90.3h0M434.1 88.7h0M436.2 54.9h0M435.9 49.3h0M433.3 115.7h0M423.5 71.3h0M435.2 66.3h0M428.6 55h0M440.5 120.8h0M427.5 48.8h0M440 97h0M442.9 102.7h0M442.6 76.4h0M434.6 67.8h0M430.5 115.2h0M444.9 116.6h0M436.4 33.1h0M426.9 46.4h0M427 53.3h0M440.8 47.9h0M433.6 100.2h0M440.2 72.5h0M430.8 40.5h0M427.4 63.5h0M423.9 39.1h0M436.4 63.4h0M434.8 90.4h0M429.4 84.4h0M444.3 129.4h0M440.1 89.2h0M431.8 96.4h0M426.5 67.6h0M441.5 110.2h0M436 99.9h0M438.7 63h0M424.7 58.9h0M433.7 55.3h0M424.3 46.8h0M437.6 44.5h0M431.1 112.5h0M439.4 50.8h0M436.9 70.7h0M425.2 39.4h0M429.5 103.4h0M434.9 69.3h0M433.2 73.4h0M432.8 117.1h0M432.9 121.2h0M431 66.6h0M429.5 73.9h0M436.3 52.6h0M441.8 128h0M429 101.7h0M438.7 36.9h0M437.1 118.6h0M432 52.9h0M429 27.5h0M422.9 66.2h0M425.2 83h0M429 33.2h0M432.6 75.2h0M437.9 30.4h0M438.5 66.2h0M430.4 117.5h0M428.4 67.3h0M433.2 109.7h0M436.7 125.1h0M430 105.8h0M445 124.3h0M435.2 124.2h0M432.4 101h0M439.2 42.4h0M434.9 73.6h0M426.9 28.7h0M429.1 43.1h0M437.3 41.2h0M439.2 114.1h0M434.2 67h0M435.3 68.6h0M431.3 48.5h0M437.4 76.9h0M438.3 56.3h0M435.4 88.9h0M427.9 73.3h0M431.1 108.8h0M435.3 120.5h0M432.4 94.3h0M437.4 107.4h0M434.1 75.7h0M424.2 77.6h0M426.9 36.5h0M424.6 36.8h0M431.8 116.3h0M433.4 94.8h0M426.9 61.7h0M435.6 47.8h0M432 32.7h0M426.1 79.5h0M432.5 91.8h0M426.7 49.7h0M429.7 97.4h0M432.9 82.4h0M433.5 56.2h0M441.9 95.8h0M437.3 110.4h0M429.3 48.4h0M428.9 110.5h0M423.7 69.1h0M446.2 126.1h0M442.7 105.1h0M440.1 107.9h0M430.7 45.2h0M435.6 93.9h0M438 62.4h0M440.3 128.6h0M436.5 112.7h0M438 46.5h0M436.9 86.1h0M435.1 92.7h0M436.9 83.1h0M441 115.3h0M424 53.3h0M439.7 29.6h0M435.5 101.4h0M427.2 78.4h0M439 58.2h0M442.4 109.6h0M444.8 120.1h0M428.9 113.1h0M427.4 35.6h0M438.9 91.7h0M433.7 71.2h0M424.2 61h0M430.5 29.7h0M444.1 111h0M439.3 74.9h0M437.5 98.7h0M440.8 60.5h0M428.2 101h0M424.7 70h0M437.9 63.4h0M426.5 99.2h0M427.5 58.5h0M436.3 115.9h0M434 103.4h0M425 65.7h0M432.4 41.5h0M441 86.4h0M437.9 87.9h0M436.3 28.5h0M437.8 49.6h0M440 119.9h0M438.9 51.6h0M441.1 125.9h0M435.4 112.9h0M442.8 94.1h0M433.6 118.2h0M437.9 64.8h0M442.5 83.2h0M437.3 69.7h0M440.9 70.7h0M424 85.8h0M440.7 71.7h0M426.8 104h0M443.8 113.4h0M432.1 84.8h0M422.9 69.5h0M428 69.6h0M432.7 99.4h0M428.4 31.8h0M438 77.8h0M431.7 31.2h0M430.4 58.4h0M443.1 120.5h0M437.9 54.2h0M438.2 100.9h0M428.4 88.4h0M438.5 29.7h0M441.3 84.3h0M430.4 77.4h0M436.6 36.7h0M426 91h0M423.2 63.6h0M423.6 41.6h0M442.8 132.1h0M429.3 34.7h0M425.6 94.5h0M430.8 60.3h0M439.5 56.2h0M431.3 46.8h0M441.6 112.9h0M440.4 101.7h0M427.4 39.2h0M434.9 102.4h0M433.2 80.2h0M439.8 54.2h0M439.1 98.4h0M436.5 26.2h0M433 78.7h0M436.8 35.5h0M444.4 108.7h0M436.8 92.9h0M438.5 115.3h0M430.1 70.7h0M440.1 61.2h0M426.2 66.4h0M433.2 59.3h0M445 126.7h0M426.8 82.2h0M429.7 79.7h0M432.3 72.5h0M429.9 67.3h0M433.9 46.1h0M439.9 36.4h0M425.6 62.4h0M441.3 66.7h0M441 106.4h0M440.3 121.8h0M433.6 101.9h0M422 76.2h0M433.6 70.2h0M429.4 111.6h0M438.5 94.3h0M434.7 48.8h0M446 124.2h0M430.9 84.8h0M439.6 77.1h0M438.5 41.5h0M431.7 30.1h0M438.7 43.3h0M439.9 109.8h0M430.2 65.8h0M432.6 25.3h0M458.5 87.7h0M454.1 98.5h0M457.3 100.7h0M454.6 37.9h0M464.1 32.4h0M459.4 117.5h0M460.3 69.7h0M452 104.7h0M449.7 110.9h0M451.2 93.5h0M453.2 81.3h0M454.9 122.4h0M457.2 107.9h0M459 56h0M447.9 133.1h0M453.8 85.1h0M457.3 63.4h0M452.1 97.5h0M458.4 105.1h0M455.1 105.2h0M460.4 103.7h0M450 130h0M455.1 99.4h0M457.2 115.3h0M452.4 127.9h0M450.1 115.8h0M450.7 117.1h0M450.6 103.2h0M459.8 102h0M461.6 112.8h0M446.6 127.8h0M457.5 75.7h0M450.6 92h0M452.7 96.6h0M459.5 47.5h0M452.3 100.6h0M456.5 67.8h0M460.9 67.9h0M463.3 45.3h0M451.3 90.3h0M458.6 59.7h0M461.6 58.5h0M455.8 97.5h0M463.5 47.5h0M460.4 60.4h0M460.4 116.4h0M453.6 94h0M448.3 115.3h0M453.9 93.1h0M458.2 45.4h0M458.7 93.9h0M454.2 117.3h0M462.9 64h0M449.1 116.5h0M454 47h0M459 69.5h0M451.5 85.7h0M457.9 110.9h0M457 78h0M454 44.8h0M450.3 102.3h0M454.1 110h0M459.1 36.7h0M463 91.9h0M459.6 104.5h0M448.3 118.7h0M461.6 106.3h0M458.3 81h0M452.7 107.6h0M450.8 118.2h0M456.4 71.3h0M456.5 119.8h0M450.3 104.3h0M450.6 98.2h0M458.4 121.5h0M461.7 38.4h0M450.1 108.5h0M463.2 103.8h0M455.5 26h0M457 34.3h0M450.5 112.9h0M452.5 117.6h0M461.7 73h0M460.5 75.9h0M461.4 100.3h0M464.6 25.9h0M454.2 87.1h0M452.4 101.6h0M455.7 34.3h0M454.4 83.4h0M452.6 68.3h0M462.3 78.2h0M464 29.2h0M451 96.4h0M455.4 53.5h0M453.7 103.9h0M460.9 86.6h0M455.5 124.9h0M457.2 24.8h0M453.7 70.6h0M457.1 92h0M447.3 128.5h0M458 108.4h0M451.8 94.9h0M455.1 117.6h0M460.7 94.6h0M451.4 125h0M455.9 83.6h0M457.7 33h0M455 45.3h0M452.3 93.2h0M456.9 84.2h0M455 115.3h0M455.1 95.3h0M462.5 41.9h0M453.6 99.6h0M449.2 113.3h0M457.6 105.4h0M451.7 78h0M461.4 114.2h0M458.9 88.8h0M452.5 71.4h0M459.4 26.9h0M454 124.5h0M454.7 63h0M452.3 74.5h0M451.8 107.1h0M450.7 106.2h0M449.5 107.5h0M460.2 45.4h0M456.8 52.3h0M461.6 102.7h0M460.6 114.7h0M455.6 37.2h0M464.2 51.7h0M453.4 56.5h0M453.3 61.4h0M461.4 55.1h0M454.7 57.3h0M458.4 43.1h0M459.5 30.9h0M457.2 121.5h0M460.2 49.1h0M450.5 129.1h0M454.3 90.3h0M456.1 112.7h0M462.9 101.9h0M460.3 108.9h0M454.5 79.6h0M455.4 69.5h0M458.4 117.4h0M448.9 128.8h0M448.2 113.9h0M460.9 26.6h0M462.1 104h0M464.3 37.2h0M449.8 119h0M459.2 108.2h0M450.5 120.9h0M453.3 109.3h0M453.7 107.3h0M456.1 95.6h0M453.5 50.5h0M447.4 129.4h0M450.9 100.5h0M455.5 64.8h0M451.6 113.8h0M452.3 110.5h0M462.3 32.4h0M463.3 96.9h0M460.7 111h0M455.3 98.5h0M449.7 106h0M461.4 60.1h0M459.5 37.7h0M453.4 127.5h0M452.8 103.2h0M454.3 39.5h0M454.8 42.1h0M455.6 86h0M460.7 95.7h0M463.5 61.8h0M452.2 90.4h0M459.2 70.5h0M462.8 97.6h0M455.4 111h0M454.5 103.1h0M455 103.9h0M451.5 112.7h0M455.4 103.1h0M455.4 70.8h0M462.7 58.6h0M457.2 27.5h0M454.7 77.6h0M456.5 74.4h0M455 38.7h0M459.6 87.9h0M460.5 47.4h0M447.9 122.7h0M449.1 108.7h0M458.8 40.2h0M446.8 124.8h0M455.6 41.4h0M457 110.1h0M463.9 50.2h0M461.7 89.4h0M456.5 124.2h0M453 88.5h0M448.5 112h0M455.5 116.5h0M448.5 121.4h0M460.6 66.3h0M452.8 58.4h0M461 87.9h0M451 126h0M453.2 97.9h0M463.7 40h0M459 114.3h0M454.3 48.1h0M458.2 101h0M460.7 62.9h0M456.9 83.1h0M455.7 93.8h0M457.1 29h0M461.8 111.3h0M458.2 112.9h0M450 105.1h0M458.9 72.7h0M460.4 81.9h0M460 64.1h0M453.7 106.3h0M458.8 29h0M458.9 100h0M447.8 130.5h0M460.8 118.5h0M461 97.8h0M459.3 100.8h0M460.5 107.3h0M453.4 121.9h0M451 112h0M449.2 132.5h0M462.4 66.5h0M462.4 94h0M451 105.3h0M456.5 72.9h0M458.3 84.6h0M452 111.8h0M455.7 107.4h0M449.8 123.6h0M456.2 80.6h0M458.1 86.9h0M455 52.3h0M459.8 113.6h0M448.7 129.8h0M449.8 112.1h0M453.7 78.5h0M460.6 34.4h0M450.4 94.5h0M455.5 73.3h0M455.5 30.3h0M455.9 39.9h0M456.3 100.4h0M456.6 32h0M453.1 83.3h0M461 41.5h0M457.8 54.6h0M447.3 126.3h0M449 123h0M446.5 131.4h0M450 114.4h0M448.7 126.6h0M460.8 101.4h0M453.7 100.9h0M455.4 27.5h0M459.2 118.6h0M455 68.4h0M458.1 111.8h0M452.6 99.2h0M454.1 113.4h0M462.4 53.2h0M452.3 123.1h0M453.7 126.2h0M457.2 64.4h0M457.3 113.4h0M461.3 36.9h0M451.8 79.6h0M461.4 74.5h0M459.7 62.8h0M452.1 126.2h0M453.5 51.4h0M460.9 91.7h0M463.7 90.6h0M456.6 118.6h0M449.9 131.3h0M448.2 120.7h0M455.7 90h0M459.8 33h0M454.4 119.4h0M458.8 91.9h0M455.4 85h0M460.1 89.1h0M454.8 56.3h0M462.7 55.5h0M456.2 76.3h0M453.9 120.2h0M448.5 125.2h0M457.9 66h0M460.5 61.5h0M452.6 84.7h0M452.2 119.7h0M448 117.9h0M451.4 114.8h0M451.7 109.5h0M459.6 32.1h0M457.3 76.9h0M457.3 58.7h0M457 95.4h0M460 92.8h0M453 114.6h0M462.8 85.9h0M450.9 88.7h0M462.9 38h0M462.6 34.6h0M453.8 96.2h0M460.5 85.6h0M458.1 99.6h0M455 126h0M459.7 95.5h0M450.7 110.1h0M458 93.2h0M459.9 111.9h0M455.4 28.6h0M457.7 51.1h0M453.2 90.9h0M446.7 134.2h0M458.9 34.6h0M458.3 60.5h0M454.2 41h0M455.8 101.8h0M456.2 48.2h0M457.9 44.3h0M457.1 111.2h0M457.2 46.8h0M451.9 82.5h0M452.6 72.7h0M457.5 120.4h0M462.9 106.6h0M449.6 127.4h0M451.8 92.1h0M455.8 77.9h0M453.8 45.8h0M459.3 87h0M450.7 122.6h0M453.9 55h0M456 105.5h0M463 85.1h0M456.9 61.1h0M458.2 47.9h0M452.7 59.3h0M457.3 102h0M458.1 119.2h0M461.4 108.7h0M456.8 104.2h0M451.2 87.5h0M456.1 114.5h0M451.1 123.6h0M451.6 98.7h0M449.2 119.8h0M461.5 46.9h0M457.2 99.5h0M459.5 33.9h0M462.2 48.1h0M463.8 44.3h0M455.3 89.1h0M449 131h0M454.4 88.4h0M456.7 41.4h0M457.5 37.3h0M456.4 89h0M461.3 98.7h0M463.4 92.8h0M452.4 115.2h0M455.8 60.1h0M452.6 87.2h0M460.6 73.8h0M461.7 95.4h0M458.1 69.2h0M457.4 43.3h0M460.7 93.6h0M461.2 49.4h0M455.6 119.2h0M447.1 123.8h0M461.5 115.3h0M456.5 116.1h0M461.3 40.5h0M453.3 74.3h0M460.8 90.3h0M461.3 52.4h0M456.5 123.2h0M452.6 63.3h0M458.3 32h0M453 80.2h0M457 117h0M451.9 75.7h0M457.8 68.1h0M454.2 43h0M456.1 57.7h0M454.9 91.4h0M452.1 73.5h0M448.1 124.4h0M464.1 83.2h0M463.4 76.1h0M455.9 46h0M461.3 28.8h0M458.8 58.8h0M458.2 98.4h0M458.2 97.1h0M463.9 84.2h0M459.1 25.8h0M452.3 65.4h0M453.9 108.6h0M457.4 103.5h0M451.5 120.8h0M453.2 64.5h0M460.1 100.3h0M453.7 69.2h0M461.3 80.4h0M460.8 51.3h0M455.9 108.3h0M456.5 92.6h0M461 77.5h0M460.4 98.5h0M458.7 96.3h0M450 121.6h0M463.3 28.5h0M461.9 59.4h0M458.2 95.1h0M458.1 83.6h0M459.9 40.8h0M453.4 105h0M454.4 61.2h0M447.6 119.6h0M454.8 112.3h0M450.3 99.8h0M448.8 111h0M455.5 51h0M452.2 124.5h0M453.6 72.3h0M454.8 121h0M451.5 83.9h0M459.8 106.7h0M447.2 121.8h0M457.6 118.4h0M458.9 82.4h0M463.9 38.1h0M461 84.4h0M451.5 81.2h0M458.8 90.5h0M449.3 109.7h0M458.1 89.3h0M450.3 124.5h0M458.2 38.1h0M463.2 99.9h0M454.1 58.1h0M459.3 78.1h0M454.5 93.8h0M462.7 43.4h0M446.8 130.3h0M457.3 49.5h0M459.9 102.8h0M451.8 88.6h0M460.9 96.7h0M454.2 63.8h0M454.5 82.5h0M455.6 47.2h0M463.2 98.9h0M461.9 68.8h0M453.4 60.3h0M462.7 109.7h0M455.4 82.1h0M456.8 112.1h0M456 99.5h0M453.4 53h0M456.1 113.5h0M456.9 98.1h0M462.4 60.7h0M452 122.3h0M458.4 74.2h0M455.2 113.7h0M454.2 50h0M458.2 115.7h0M451.5 102.7h0M449.9 117.4h0M455.2 124.1h0M462.1 112h0M459.5 99.1h0M450.6 127.2h0M457.1 71.9h0M458.7 65.5h0M450.7 119.9h0M452.5 120.7h0M458.9 53.4h0M457 38.9h0M455.8 91.4h0M453.7 57.3h0M449.7 126.3h0M453.5 49h0M458.9 103.7h0M463 110.6h0M450.1 98.9h0M454.4 104.6h0M451.5 129.7h0M451.8 103.8h0M452.4 70.4h0M455.7 104.4h0M454.5 106h0M451.4 108.5h0M452.5 66.9h0M460 52.6h0M452.2 127h0M454.3 67.5h0M457.2 60.1h0M457.9 109.7h0M462.2 79.2h0M447.6 127.2h0M458.3 35.9h0M450 100.8h0M454.7 75h0M461 44.1h0M452.8 79.1h0M462.4 44.6h0M456.2 61.7h0M450.4 95.4h0M460.5 36.2h0M458.2 27.6h0M462.1 85.2h0M456.3 87.5h0M453.6 66.5h0M450.3 107h0M462.9 27.1h0M454.4 85.7h0M462 76.5h0M459.3 109.8h0M455.6 109.5h0M462.4 72.2h0M460.7 24.7h0M458.8 46.7h0M457.7 106.3h0M452.9 89.6h0M459.2 42h0M453.8 115.9h0M458.1 91.3h0M460.7 79.6h0M452.4 94.1h0M458.5 107.2h0M456.9 55.1h0M452.9 113.8h0M458 104.3h0M454 114.5h0M459.9 71.1h0M453.3 118.5h0M464.1 72.2h0M454.7 101.9h0M451.4 127.8h0M456.2 102.5h0M450.3 96.9h0M460.1 119.3h0M458.5 66.7h0M452.7 106.3h0M453 116.7h0M452.9 128.8h0M447.9 117h0M452.6 62.4h0M462.7 103h0M452.6 112.7h0M458.3 33.7h0M456.9 106.8h0M463.6 35.8h0M451.6 89.5h0M460.6 30.9h0M420 59.5h0M422.5 38.2h0M418.2 70.5h0M419.7 66.1h0M422.1 30.6h0M422 73.1h0M419.4 82.1h0M420.2 48.9h0M421.8 34h0M420.3 74.4h0M420.9 27.8h0M419.1 52.9h0M420.7 54.6h0M421.5 71.2h0M418.2 64.7h0M422.4 35.7h0M420.4 61.7h0M423.7 31.4h0M421.6 69.1h0M420 71.4h0M421.4 65.4h0M464.1 94.4h0M464.6 67.2h0M468.1 40.9h0M469.2 70.4h0M466.9 30.5h0M470.3 40.5h0M465.7 28.8h0M467.2 42h0M464.5 54.8h0M467.4 89.4h0M467.2 61.6h0M469 54.4h0M465.9 72.7h0M466.8 75.2h0M469.9 38.5h0M465.1 51.1h0M464.8 43.3h0M470 34.1h0M470.3 46.7h0M470.3 51.7h0M467.9 35.2h0M464.8 68.3h0M469.9 32.7h0M468 61.9h0M466 56.5h0M467 54.4h0M469 49.2h0M465.5 75.9h0M469.3 31.3h0M463 111.7h0M469.7 68.9h0M468.6 78.5h0M471.8 25.2h0M468.5 27.1h0M465.5 69.5h0M464.9 38.9h0M465.4 71.9h0M468 64.2h0M465.7 25.3h0M467 85.4h0M470.8 41.6h0M464.7 46.5h0M465.1 32.6h0M464.2 59.9h0M410.9 27.4h0M415.2 29.1h0M414.6 34h0M410.9 40.5h0M415.9 47h0M417.1 54.6h0M414.6 62.8h0M416.3 79.7h0M416.9 92.2h0M420 98.2h0M424 94.4h0M426.9 102h0M480.5 50.8h0M476.7 56.8h0M478.4 93.3h0M473.6 39.9h0M474.6 45.4h0M446.5 135.2h0M446.5 134.5h0M445.7 134.4h0M447.3 134.4h0M446.5 133.7h0M444.8 133.7h0M448.2 133.7h0M444 132.9h0M449 132.9h0M446.5 132.9h0M445.5 132.5h0M447.5 132.5h0" stroke="#000" stroke-width="3.3" stroke-linecap="round" fill="none"/></g>
</g>
<g>
<rect x="550.5" y="29.5" width="134" height="128" fill="#fff" stroke="#d2d2d2" stroke-width="1"/>
<path d="M547.1 151.4h3.4M548.7 145.3h1.8M547.1 139.2h3.4M548.7 133.1h1.8M547.1 127h3.4M548.7 120.9h1.8M547.1 114.8h3.4M548.7 108.7h1.8M547.1 102.6h3.4M548.7 96.5h1.8M547.1 90.5h3.4M548.7 84.4h1.8M547.1 78.3h3.4M548.7 72.2h1.8M547.1 66.1h3.4M548.7 60h1.8M547.1 53.9h3.4M548.7 47.8h1.8M547.1 41.7h3.4M548.7 35.6h1.8M547.1 29.5h3.4M554 157.5v3.8M559.2 157.5v2.2M564.5 157.5v2.2M569.8 157.5v2.2M575 157.5v3.8M580.2 157.5v2.2M585.5 157.5v2.2M590.8 157.5v2.2M596 157.5v3.8M601.2 157.5v2.2M606.5 157.5v2.2M611.8 157.5v2.2M617 157.5v3.8M622.2 157.5v2.2M627.5 157.5v3.8M632.8 157.5v2.2M638 157.5v3.8M643.2 157.5v2.2M648.5 157.5v3.8M653.8 157.5v2.2M659 157.5v3.8M664.2 157.5v2.2M669.5 157.5v3.8M674.8 157.5v2.2M680 157.5v3.8" stroke="#bdbdbd" stroke-width="1" fill="none"/>
<text x="545.5" y="154.2" font-size="9.6" text-anchor="end" textLength="3.7" lengthAdjust="spacingAndGlyphs">0</text>
<text x="545.5" y="142" font-size="9.6" text-anchor="end" textLength="3.7" lengthAdjust="spacingAndGlyphs">2</text>
<text x="545.5" y="129.8" font-size="9.6" text-anchor="end" textLength="3.7" lengthAdjust="spacingAndGlyphs">4</text>
<text x="545.5" y="117.6" font-size="9.6" text-anchor="end" textLength="3.7" lengthAdjust="spacingAndGlyphs">6</text>
<text x="545.5" y="105.4" font-size="9.6" text-anchor="end" textLength="3.7" lengthAdjust="spacingAndGlyphs">8</text>
<text x="545.1" y="93.3" font-size="9.6" text-anchor="end" textLength="7.5" lengthAdjust="spacingAndGlyphs">10</text>
<text x="545.1" y="81.1" font-size="9.6" text-anchor="end" textLength="7.5" lengthAdjust="spacingAndGlyphs">12</text>
<text x="545.1" y="68.9" font-size="9.6" text-anchor="end" textLength="7.5" lengthAdjust="spacingAndGlyphs">14</text>
<text x="545.1" y="56.7" font-size="9.6" text-anchor="end" textLength="7.5" lengthAdjust="spacingAndGlyphs">16</text>
<text x="545.1" y="44.5" font-size="9.6" text-anchor="end" textLength="7.5" lengthAdjust="spacingAndGlyphs">18</text>
<text x="545.1" y="32.3" font-size="9.6" text-anchor="end" textLength="7.5" lengthAdjust="spacingAndGlyphs">20</text>
<text x="550.4" y="171" font-size="9.6" textLength="6" lengthAdjust="spacingAndGlyphs">-3</text>
<text x="571.4" y="171" font-size="9.6" textLength="6" lengthAdjust="spacingAndGlyphs">-2</text>
<text x="592.4" y="171" font-size="9.6" textLength="6" lengthAdjust="spacingAndGlyphs">-1</text>
<text x="615.1" y="171" font-size="9.6" textLength="3.7" lengthAdjust="spacingAndGlyphs">0</text>
<text x="622.8" y="171" font-size="9.6" textLength="9.3" lengthAdjust="spacingAndGlyphs">0.5</text>
<text x="636.1" y="171" font-size="9.6" textLength="3.7" lengthAdjust="spacingAndGlyphs">1</text>
<text x="643.8" y="171" font-size="9.6" textLength="9.3" lengthAdjust="spacingAndGlyphs">1.5</text>
<text x="657.1" y="171" font-size="9.6" textLength="3.7" lengthAdjust="spacingAndGlyphs">2</text>
<text x="664.8" y="171" font-size="9.6" textLength="9.3" lengthAdjust="spacingAndGlyphs">2.5</text>
<text x="678.1" y="171" font-size="9.6" textLength="3.7" lengthAdjust="spacingAndGlyphs">3</text>
<text x="585.6" y="180.7" font-size="9.6" textLength="60.4" lengthAdjust="spacingAndGlyphs">Diff of TP = (72)-(24)</text>
<text transform="translate(524.5 93.8) rotate(-90)" class="yl" x="-57.2" y="0" font-size="6.5" textLength="114.4" lengthAdjust="spacingAndGlyphs">-log10(p-value) for Diff of TP =</text>
<text transform="translate(532.7 93.8) rotate(-90)" class="yl" x="-14.6" y="0" font-size="6.5" textLength="29.2" lengthAdjust="spacingAndGlyphs">(72)-(24)</text>
<path d="M547.1 135.9H550.5M550.5 135.9H684.5" stroke="#f58cab" stroke-width="1.6" stroke-dasharray="3.4 3.3" fill="none"/>
<clipPath id="cT4"><rect x="551" y="30" width="133" height="127"/></clipPath>
<g clip-path="url(#cT4)"><path transform="scale(1 1.12)" d="M601 126.1h0M606.9 125.7h0M611.7 133.7h0M599.7 124.7h0M598.4 125.3h0M610.3 129h0M600.8 128.8h0M607.5 128.3h0M612.2 129h0M609.3 126.8h0M612.7 123.9h0M603.6 129.9h0M612.9 131.8h0M616.5 133.3h0M600.9 123.6h0M610.7 133h0M600.2 130h0M610.4 127.1h0M612.9 128.5h0M610 131.6h0M601.7 128.3h0M614.4 128.6h0M612.9 130.2h0M610.6 124.4h0M612 125.4h0M603 131h0M599.1 128.8h0M596.6 125.3h0M598.2 128.5h0M608.1 129.7h0M608.7 132.1h0M606.2 124.9h0M597 126.9h0M605.1 129.5h0M602.1 125.7h0M603.8 128.2h0M609.2 124.2h0M599.2 129.7h0M609.1 129.7h0M611.8 129.9h0M609.4 128.1h0M600.4 127.6h0M616.8 134.7h0M609.2 133.8h0M604.3 126.7h0M599.8 125.7h0M597.8 127.6h0M615.5 129h0M605.6 124.1h0M605.2 125.2h0M610.8 123.5h0M604.5 132.4h0M611.6 132.6h0M614.7 126.9h0M597.3 129.2h0M604.8 128h0M611.7 122.7h0M597.9 124h0M601.7 126.8h0M603.7 131.6h0M608.1 127.2h0M613.2 126.4h0M602.4 123.5h0M604.2 123.8h0M602.6 131.7h0M603.2 123.1h0M615.9 129.7h0M608.6 128.7h0M606.2 129.6h0M602.1 129.7h0M602.8 127.5h0M610.9 125.2h0M607.5 133.2h0M597.2 124.6h0M607 127.5h0M601.1 131.4h0M608.5 123h0M614 133.5h0M599.8 126.5h0M603.7 129h0M613.8 123.5h0M598.8 126.1h0M615.5 127.9h0M614.9 130.9h0M604.8 122.9h0M603.2 126.3h0M596.8 127.9h0M602.5 124.8h0M612.8 133.3h0M598.8 123.4h0M615.5 132h0M599.8 123.8h0M614.2 129.6h0M611 130.5h0M606 131.3h0M610.9 126.3h0M609.7 125h0M608.1 130.6h0M614.1 126.2h0M604.7 130.5h0M608 125h0M612.7 123h0M611.3 131.4h0M606.2 122.8h0M607.9 123.8h0M605.3 132.1h0M613.5 132.7h0M606.1 133.2h0M613.1 134.1h0M605.8 126.4h0M598.7 127.2h0M614.5 127.8h0M611 128.2h0M613.9 130.8h0M596.7 126.1h0M615.8 130.9h0M608.6 125.8h0M615.1 134.1h0M612.2 131.1h0M606.5 123.9h0M613.2 127.6h0M613.4 125.4h0M601.3 125.1h0M614.4 122.9h0M611.6 123.9h0M615.1 125.9h0M607.2 132.3h0M612 126.4h0M608.8 133h0M603.5 132.6h0M615.2 132.9h0M597.6 126.3h0M611.7 127.1h0M614.3 131.7h0M616.3 132.5h0M614.4 124.7h0M606.5 128.6h0M615.9 134.8h0M607.2 126.6h0M601.1 130.4h0M606 127.8h0M600.1 131.3h0M607.2 124.5h0M606.8 130.6h0M602.6 128.8h0M603.8 125.1h0M607.3 122.8h0M609.4 130.9h0M612.6 124.8h0M598.2 129.7h0M609.9 126.1h0M614.2 134.4h0M609.8 123.2h0M597.5 125.5h0M610.6 133.8h0M605.4 127.2h0M611.9 128h0M599.4 130.5h0M599.1 127.9h0M610.1 129.9h0M599.9 129.2h0M598.7 124.6h0M607.5 131.3h0M612.6 127h0M604.4 125.9h0M613.1 129.3h0M603.1 124.1h0M601.8 124.3h0M609.9 132.4h0M601.7 132.1h0M604.7 124.5h0M604.9 131.4h0M607.3 129.3h0M629.8 128.8h0M619.4 126.5h0M620.3 125.9h0M625.8 125h0M619.3 124.5h0M617.9 133.2h0M626.6 131.6h0M627.1 126.5h0M627.7 128.1h0M619.7 127.8h0M620.8 132.1h0M633.5 127.2h0M620.9 133.7h0M631.7 125.7h0M624.4 129.7h0M624.2 131.3h0M625.1 126.9h0M625.9 122.4h0M626.2 127.3h0M626.3 129.6h0M620.2 129h0M633.1 125.3h0M623.1 124.9h0M628 123.6h0M632.3 127h0M621.6 123.8h0M620 123.8h0M621.6 132.8h0M626.4 130.4h0M631.5 130.1h0M632.9 129h0M633.6 126.3h0M627.5 129.3h0M624 128.5h0M629.6 127.8h0M627.3 122.5h0M621.8 134.1h0M626.8 123.4h0M623.1 133.8h0M630.2 126.6h0M629.3 126.6h0M621 124.8h0M631.7 123.5h0M630.6 123.7h0M632.4 124.8h0M622.5 126.7h0M631.1 127.6h0M623.3 127.4h0M624.4 132.1h0M625.4 133h0M623.1 123.4h0M627.6 132.5h0M622.3 128.5h0M623.4 132.6h0M624 126.4h0M629.4 131.3h0M620.3 134.4h0M624.5 127.5h0M619.2 131.6h0M630.1 124.7h0M628.6 125.8h0M617.8 131.4h0M627.6 125.2h0M626.2 125.8h0M629.3 124.3h0M619.3 125.4h0M622.4 132.3h0M622.1 130.8h0M630.6 129.9h0M628.3 127.4h0M622.8 125.7h0M628.1 130.5h0M621.8 125.7h0M629.3 122.8h0M631.7 129h0M628.4 129.2h0M622.8 130h0M620.7 130.9h0M623.6 130.5h0M631.4 126.6h0M617.9 134.6h0M630.7 129h0M624 123.2h0M619.2 133.7h0M619.4 129.8h0M626.6 128.1h0M631.2 125h0M618.2 130.5h0M618.7 129h0M626 123.9h0M624.7 124.2h0M630.3 130.9h0M621 126.8h0M629.4 129.9h0M622.2 124.5h0M633.6 128.2h0M630.7 125.7h0M621.9 129.7h0M624.9 128.9h0M621.3 128.6h0M623.2 129h0M629.4 125.2h0M625 122.8h0M619.5 123h0M622.9 131.4h0M619.6 130.8h0M621.6 122.9h0M627.8 124.4h0M626.6 132.9h0M619.6 132.7h0M632.6 129.8h0M625.1 130.6h0M624.4 125h0M617.3 133.9h0M621.7 127.3h0M617.6 132.2h0M622.9 122.6h0M625.3 128h0M625.3 131.8h0M627.3 127.3h0M632.5 128.1h0M624 133.4h0M618.6 128.1h0M627.8 131.7h0M618.6 132.6h0M628.3 122.6h0M628.1 126.6h0M628.8 132h0M620.5 122.6h0M621.4 131.5h0M628.5 125h0M618.8 134.7h0M632.6 126.2h0M620.7 128h0M618.9 127.3h0M625.3 129.8h0M621 130h0M626.6 124.6h0M622.4 133.3h0M625.2 125.7h0M630.4 128.2h0M623.8 124.3h0M628.9 128.3h0M620.1 125h0M610.6 120.7h0M608.9 119h0M598.9 120.8h0M603.9 122.1h0M606.9 121.3h0M604.1 118.8h0M613.4 119.5h0M611.3 116.9h0M614.3 120.3h0M612.2 120h0M601.3 120.8h0M612.7 119h0M609.1 122h0M605.6 120.2h0M604.5 120.7h0M602.9 121.4h0M601.6 122.9h0M613.2 118.1h0M600.5 121.5h0M610.3 118.5h0M608 119.8h0M604.8 119.9h0M632.5 122.2h0M628.9 121.1h0M620.5 120.9h0M629.5 118.5h0M627.8 120.4h0M630 120.2h0M631 121.5h0M624 119.6h0M633.6 124.1h0M623.4 121.7h0M621.7 119.4h0M624.8 121.8h0M621.4 117.3h0M629.2 121.9h0M622.8 120.2h0M620.1 118.3h0M595 63.3h0M624.1 96.9h0M621.6 104.4h0M624.6 109.8h0M625.6 112.9h0M630.4 113.8h0M620.8 114.9h0M641.4 124h0M636.7 125.4h0M634.2 122.7h0M593.1 123.7h0M598.5 117.9h0M600.4 114.2h0M608.8 108.1h0M609.4 110.2h0M610.5 112.2h0M611.8 114.9h0M605.7 116.2h0M595.6 125.9h0M617 135.2h0M614.9 135h0M619.1 135h0" stroke="#000" stroke-width="3.3" stroke-linecap="round" fill="none"/></g>
</g>
<g>
<rect x="31.5" y="225.2" width="134" height="128" fill="#fff" stroke="#d2d2d2" stroke-width="1"/>
<path d="M28.1 346.6h3.4M29.7 340.5h1.8M28.1 334.5h3.4M29.7 328.4h1.8M28.1 322.3h3.4M29.7 316.2h1.8M28.1 310.2h3.4M29.7 304.1h1.8M28.1 298h3.4M29.7 292h1.8M28.1 285.9h3.4M29.7 279.8h1.8M28.1 273.8h3.4M29.7 267.7h1.8M28.1 261.6h3.4M29.7 255.6h1.8M28.1 249.5h3.4M29.7 243.4h1.8M28.1 237.3h3.4M29.7 231.3h1.8M28.1 225.2h3.4M34.9 353.2v3.8M40.2 353.2v2.2M45.4 353.2v2.2M50.7 353.2v2.2M55.9 353.2v3.8M61.2 353.2v2.2M66.4 353.2v2.2M71.7 353.2v2.2M76.9 353.2v3.8M82.2 353.2v2.2M87.4 353.2v2.2M92.7 353.2v2.2M97.9 353.2v3.8M103.2 353.2v2.2M108.4 353.2v3.8M113.7 353.2v2.2M118.9 353.2v3.8M124.2 353.2v2.2M129.4 353.2v3.8M134.7 353.2v2.2M139.9 353.2v3.8M145.2 353.2v2.2M150.4 353.2v3.8M155.7 353.2v2.2M160.9 353.2v3.8" stroke="#bdbdbd" stroke-width="1" fill="none"/>
<text x="26.5" y="349.4" font-size="9.6" text-anchor="end" textLength="3.7" lengthAdjust="spacingAndGlyphs">0</text>
<text x="26.5" y="337.3" font-size="9.6" text-anchor="end" textLength="3.7" lengthAdjust="spacingAndGlyphs">2</text>
<text x="26.5" y="325.1" font-size="9.6" text-anchor="end" textLength="3.7" lengthAdjust="spacingAndGlyphs">4</text>
<text x="26.5" y="313" font-size="9.6" text-anchor="end" textLength="3.7" lengthAdjust="spacingAndGlyphs">6</text>
<text x="26.5" y="300.8" font-size="9.6" text-anchor="end" textLength="3.7" lengthAdjust="spacingAndGlyphs">8</text>
<text x="26.1" y="288.7" font-size="9.6" text-anchor="end" textLength="7.5" lengthAdjust="spacingAndGlyphs">10</text>
<text x="26.1" y="276.6" font-size="9.6" text-anchor="end" textLength="7.5" lengthAdjust="spacingAndGlyphs">12</text>
<text x="26.1" y="264.4" font-size="9.6" text-anchor="end" textLength="7.5" lengthAdjust="spacingAndGlyphs">14</text>
<text x="26.1" y="252.3" font-size="9.6" text-anchor="end" textLength="7.5" lengthAdjust="spacingAndGlyphs">16</text>
<text x="26.1" y="240.1" font-size="9.6" text-anchor="end" textLength="7.5" lengthAdjust="spacingAndGlyphs">18</text>
<text x="26.1" y="228" font-size="9.6" text-anchor="end" textLength="7.5" lengthAdjust="spacingAndGlyphs">20</text>
<text x="31.3" y="366.7" font-size="9.6" textLength="6" lengthAdjust="spacingAndGlyphs">-3</text>
<text x="52.3" y="366.7" font-size="9.6" textLength="6" lengthAdjust="spacingAndGlyphs">-2</text>
<text x="73.3" y="366.7" font-size="9.6" textLength="6" lengthAdjust="spacingAndGlyphs">-1</text>
<text x="96" y="366.7" font-size="9.6" textLength="3.7" lengthAdjust="spacingAndGlyphs">0</text>
<text x="103.7" y="366.7" font-size="9.6" textLength="9.3" lengthAdjust="spacingAndGlyphs">0.5</text>
<text x="117" y="366.7" font-size="9.6" textLength="3.7" lengthAdjust="spacingAndGlyphs">1</text>
<text x="124.7" y="366.7" font-size="9.6" textLength="9.3" lengthAdjust="spacingAndGlyphs">1.5</text>
<text x="138" y="366.7" font-size="9.6" textLength="3.7" lengthAdjust="spacingAndGlyphs">2</text>
<text x="145.7" y="366.7" font-size="9.6" textLength="9.3" lengthAdjust="spacingAndGlyphs">2.5</text>
<text x="159" y="366.7" font-size="9.6" textLength="3.7" lengthAdjust="spacingAndGlyphs">3</text>
<text x="70.8" y="376.4" font-size="9.6" textLength="52" lengthAdjust="spacingAndGlyphs">Diff of Ph = (T)-(S)</text>
<text transform="translate(5.5 289.5) rotate(-90)" class="yl" x="-58" y="0" font-size="6.5" textLength="116" lengthAdjust="spacingAndGlyphs">-log10(p-value) for Diff of Ph =</text>
<text transform="translate(13.7 289.5) rotate(-90)" class="yl" x="-10.2" y="0" font-size="6.5" textLength="20.4" lengthAdjust="spacingAndGlyphs">(T)-(S)</text>
<path d="M28.1 331.5H31.5M31.5 331.5H165.5" stroke="#d8345f" stroke-width="1.0" stroke-dasharray="3.4 3.3" fill="none"/>
<clipPath id="cB1"><rect x="32" y="225.7" width="133" height="127"/></clipPath>
<g clip-path="url(#cB1)"><path transform="scale(1 1.12)" d="M92.3 299.3h0M90.6 304.8h0M92 301.5h0M89.4 303.8h0M89.7 296.1h0M93.3 299.8h0M90 301.2h0M90.7 297.7h0M97.7 309.2h0M88.3 302.7h0M91.6 304.4h0M92.9 301.6h0M90.6 303.8h0M90.5 298.5h0M96.1 308.2h0M94.2 306.7h0M89.5 300h0M86.7 300.5h0M91.2 294.6h0M92.8 297.6h0M95.1 303.6h0M93.2 299h0M94 302.1h0M92.1 296.7h0M90.1 295.2h0M95 306.1h0M87.4 297.5h0M89 305.3h0M91.4 302.4h0M92.2 295.5h0M95 307.6h0M91.5 306.5h0M93.3 303h0M87.1 302.8h0M93.7 305.2h0M91 295.7h0M87.8 303.5h0M89.6 302.8h0M88.3 300.1h0M87.9 304.8h0M95.1 305.1h0M88.7 296.9h0M91.6 305.3h0M92.7 305.5h0M92.1 294.6h0M86.7 304h0M86.4 299.6h0M89.9 302.1h0M94 304.1h0M96.3 306.8h0M87.6 298.9h0M88.7 298.5h0M91.7 297.8h0M89.5 297.8h0M91.2 299.4h0M94.8 302.8h0M92.2 300.5h0M92.3 303.5h0M88.4 301.7h0M87.3 301.5h0M94 301.2h0M88.9 295.7h0M90.5 302.7h0M86.6 298.7h0M93 306.6h0M91 296.8h0M90 305.7h0M97 308.6h0M89.6 299h0M90.5 300.1h0M92.4 302.6h0M94 307.7h0M88.7 299.4h0M91 301.2h0M88.4 297.7h0M88 296.3h0M95.9 305.6h0M92.8 304.5h0M87.4 299.8h0M89.7 297.1h0M88.8 304.4h0M89.2 300.9h0M96.9 307.7h0M86.4 302h0M87.6 300.7h0M86.4 297.8h0M93.4 298.2h0M91.4 303.3h0M91.6 298.6h0M91.7 293.8h0M93.2 300.8h0M109.2 304.3h0M106.3 299.9h0M102.8 301.3h0M107.8 304.9h0M100.7 304.7h0M109.3 300.7h0M106.5 294.5h0M103.2 304.3h0M107.3 300.6h0M105.7 295h0M104.9 302.2h0M105.6 296.3h0M104 298.1h0M101.9 305h0M108 297.4h0M109.1 292.6h0M108.8 299.5h0M106.7 298.6h0M108.8 297h0M106.1 305.8h0M108.2 292h0M108.4 294.9h0M102 306.9h0M104.9 301h0M104.2 304.8h0M104.8 303.4h0M107.7 294.1h0M104.8 306.1h0M103 303h0M106.6 301.5h0M107 297.4h0M103.8 301.4h0M103.3 302.2h0M104.1 299.3h0M100.8 307.4h0M101.5 303.1h0M109.5 294.1h0M103 306.5h0M107 292.7h0M106.6 303.6h0M104.4 300.3h0M108.9 301.6h0M100.9 308.3h0M107.9 299.2h0M99.6 307h0M106 299.2h0M109.2 297.9h0M105.3 304.6h0M107.6 302.7h0M108.3 298.3h0M102.7 307.6h0M108.4 293.2h0M105.1 297h0M103.4 305.5h0M108.2 303.7h0M103.9 306.6h0M105.6 303h0M98.6 308.4h0M108.3 300.1h0M109.2 291.5h0M109.1 302.8h0M107.6 301.7h0M106.9 295.7h0M107.8 305.7h0M103.5 307.3h0M108.5 295.8h0M100.8 306.1h0M107 293.5h0M107 299.5h0M99.6 308.1h0M106.5 304.8h0M109.8 297h0M105.3 298.4h0M108 296.6h0M103.7 303.5h0M109.7 295.3h0M102.9 300.2h0M106.1 297.7h0M105.9 293.6h0M106.6 302.4h0M101.8 304.1h0M101.8 308.1h0M102 302.2h0M99.7 308.9h0M109.2 305.2h0M106.7 296.6h0M110 293.3h0M105.1 299.4h0M107.5 291.5h0M109.4 296.2h0M105.7 301.8h0M104 302.7h0M110 292h0M107.4 295h0M102.2 305.9h0M108.1 301h0M113.9 291.9h0M109.5 291.3h0M92.2 293.5h0M86.1 297.5h0M97.9 309.5h0M97.9 308.8h0M97.1 308.7h0M98.7 308.7h0M97.9 307.9h0M96.2 307.9h0M99.6 307.9h0M95.4 307.2h0M100.4 307.2h0M97.9 307.2h0M96.9 306.8h0M99 306.8h0" stroke="#000" stroke-width="3.3" stroke-linecap="round" fill="none"/></g>
</g>
<g>
<rect x="204.5" y="225.2" width="133.6" height="128" fill="#fff" stroke="#d2d2d2" stroke-width="1"/>
<path d="M201.1 346.6h3.4M202.7 340.5h1.8M201.1 334.5h3.4M202.7 328.4h1.8M201.1 322.3h3.4M202.7 316.2h1.8M201.1 310.2h3.4M202.7 304.1h1.8M201.1 298h3.4M202.7 292h1.8M201.1 285.9h3.4M202.7 279.8h1.8M201.1 273.8h3.4M202.7 267.7h1.8M201.1 261.6h3.4M202.7 255.6h1.8M201.1 249.5h3.4M202.7 243.4h1.8M201.1 237.3h3.4M202.7 231.3h1.8M201.1 225.2h3.4M208.5 353.2v3.8M213.7 353.2v2.2M219 353.2v2.2M224.2 353.2v2.2M229.4 353.2v3.8M234.7 353.2v2.2M239.9 353.2v2.2M245.1 353.2v2.2M250.4 353.2v3.8M255.6 353.2v2.2M260.8 353.2v2.2M266.1 353.2v2.2M271.3 353.2v3.8M276.5 353.2v2.2M281.8 353.2v3.8M287 353.2v2.2M292.2 353.2v3.8M297.5 353.2v2.2M302.7 353.2v3.8M307.9 353.2v2.2M313.2 353.2v3.8M318.4 353.2v2.2M323.6 353.2v3.8M328.9 353.2v2.2M334.1 353.2v3.8" stroke="#bdbdbd" stroke-width="1" fill="none"/>
<text x="199.5" y="349.4" font-size="9.6" text-anchor="end" textLength="3.7" lengthAdjust="spacingAndGlyphs">0</text>
<text x="199.5" y="337.3" font-size="9.6" text-anchor="end" textLength="3.7" lengthAdjust="spacingAndGlyphs">2</text>
<text x="199.5" y="325.1" font-size="9.6" text-anchor="end" textLength="3.7" lengthAdjust="spacingAndGlyphs">4</text>
<text x="199.5" y="313" font-size="9.6" text-anchor="end" textLength="3.7" lengthAdjust="spacingAndGlyphs">6</text>
<text x="199.5" y="300.8" font-size="9.6" text-anchor="end" textLength="3.7" lengthAdjust="spacingAndGlyphs">8</text>
<text x="199.1" y="288.7" font-size="9.6" text-anchor="end" textLength="7.5" lengthAdjust="spacingAndGlyphs">10</text>
<text x="199.1" y="276.6" font-size="9.6" text-anchor="end" textLength="7.5" lengthAdjust="spacingAndGlyphs">12</text>
<text x="199.1" y="264.4" font-size="9.6" text-anchor="end" textLength="7.5" lengthAdjust="spacingAndGlyphs">14</text>
<text x="199.1" y="252.3" font-size="9.6" text-anchor="end" textLength="7.5" lengthAdjust="spacingAndGlyphs">16</text>
<text x="199.1" y="240.1" font-size="9.6" text-anchor="end" textLength="7.5" lengthAdjust="spacingAndGlyphs">18</text>
<text x="199.1" y="228" font-size="9.6" text-anchor="end" textLength="7.5" lengthAdjust="spacingAndGlyphs">20</text>
<text x="204.9" y="366.7" font-size="9.6" textLength="6" lengthAdjust="spacingAndGlyphs">-3</text>
<text x="225.8" y="366.7" font-size="9.6" textLength="6" lengthAdjust="spacingAndGlyphs">-2</text>
<text x="246.8" y="366.7" font-size="9.6" textLength="6" lengthAdjust="spacingAndGlyphs">-1</text>
<text x="269.4" y="366.7" font-size="9.6" textLength="3.7" lengthAdjust="spacingAndGlyphs">0</text>
<text x="277.1" y="366.7" font-size="9.6" textLength="9.3" lengthAdjust="spacingAndGlyphs">0.5</text>
<text x="290.4" y="366.7" font-size="9.6" textLength="3.7" lengthAdjust="spacingAndGlyphs">1</text>
<text x="298" y="366.7" font-size="9.6" textLength="9.3" lengthAdjust="spacingAndGlyphs">1.5</text>
<text x="311.3" y="366.7" font-size="9.6" textLength="3.7" lengthAdjust="spacingAndGlyphs">2</text>
<text x="319" y="366.7" font-size="9.6" textLength="9.3" lengthAdjust="spacingAndGlyphs">2.5</text>
<text x="332.2" y="366.7" font-size="9.6" textLength="3.7" lengthAdjust="spacingAndGlyphs">3</text>
<text x="242.5" y="376.4" font-size="9.6" textLength="53.8" lengthAdjust="spacingAndGlyphs">Diff of Cyt = (I)-(H)</text>
<text transform="translate(178.5 289.5) rotate(-90)" class="yl" x="-59.4" y="0" font-size="6.5" textLength="118.8" lengthAdjust="spacingAndGlyphs">-log10(p-value) for Diff of Cyt =</text>
<text transform="translate(186.7 289.5) rotate(-90)" class="yl" x="-10" y="0" font-size="6.5" textLength="20" lengthAdjust="spacingAndGlyphs">(I)-(H)</text>
<path d="M201.1 330.8H204.5M204.5 330.8H338.1" stroke="#f79ab4" stroke-width="1.9" stroke-dasharray="3.4 3.3" fill="none"/>
<clipPath id="cB2"><rect x="205" y="225.7" width="132.6" height="127"/></clipPath>
<g clip-path="url(#cB2)"><path transform="scale(1 1.12)" d="M264.7 297.6h0M265.3 304.9h0M262.6 296.9h0M263.7 296.7h0M260 300.6h0M260.9 296.6h0M265.5 301.2h0M263.3 300.4h0M264.7 298.6h0M258.6 296.9h0M270.6 308.6h0M269.1 306.1h0M264.1 304.3h0M261.9 295.2h0M258.7 302.4h0M263 294.7h0M260.5 294.1h0M261.6 301h0M268 305.9h0M267.8 302.7h0M259.5 295.8h0M268.5 307h0M264.5 300.7h0M259.2 299h0M260.4 295.4h0M266.1 306.9h0M263 303.3h0M266.7 303.2h0M262.1 298.3h0M267 301.5h0M261 303.3h0M265.2 302.8h0M263.4 304.9h0M258.2 300h0M269.7 307.6h0M268.9 304.2h0M265.5 299.5h0M260.7 299h0M263.6 301.6h0M269.7 308.5h0M264.3 306.1h0M260 301.8h0M261.8 299.6h0M258.2 297.8h0M261.1 302.1h0M267.7 308h0M263.9 295.9h0M262.6 301h0M263.2 297.6h0M266.3 305.9h0M266 300.4h0M261.6 297.6h0M261 300.3h0M259.9 303.7h0M261.1 304.5h0M264.6 299.7h0M262.8 299.1h0M259.2 300.9h0M262.2 301.9h0M265.6 302h0M260.3 298.2h0M284.8 292.5h0M283.5 292.6h0M277.3 302.2h0M280.6 286.2h0M279.9 291.8h0M281.6 298.4h0M281.9 290.2h0M276.7 296.7h0M278.9 296.7h0M277.2 296h0M273.1 305.8h0M285 291.3h0M285 284.3h0M281.2 299.5h0M273.8 307.5h0M281.6 300.7h0M284 285.3h0M274.7 300.7h0M277.7 292.7h0M283.5 291.2h0M279.8 288.4h0M280.7 296.5h0M279.7 304.8h0M282.9 285.7h0M277.8 298.6h0M276.3 304.4h0M284.6 288.2h0M282.1 292.4h0M282.9 288.1h0M276 306.9h0M278.6 290.8h0M282.1 286.2h0M280 301.1h0M285.2 289.4h0M277.3 305.2h0M284 289.8h0M277.8 296.5h0M274.8 307h0M280.8 302h0M285.5 285.9h0M278.2 304h0M283.2 287.2h0M283.3 295.2h0M273.2 308.3h0M279 300.2h0M276.5 300.7h0M280.1 293.8h0M280.2 295h0M282.1 296.5h0M285.2 282.8h0M283.3 298.6h0M277.7 299.9h0M277.6 294.4h0M275.3 301.9h0M283.4 296.8h0M284.4 294.3h0M276.8 294.8h0M279.4 298.4h0M278.5 305.3h0M278.8 289h0M275.2 303.4h0M283.7 281.9h0M275.2 299.6h0M274.2 303.8h0M277.8 301.4h0M273.5 306.7h0M282.6 293.8h0M284.1 286.5h0M274.1 302.9h0M279.5 297.4h0M282.9 283.7h0M285 287.3h0M282.3 299.4h0M281.7 289h0M281.5 287.7h0M280.9 291.5h0M281.1 297.4h0M276.9 297.9h0M277 299.1h0M275.5 304.8h0M278.5 293.2h0M280.3 303.3h0M274.6 305.4h0M276.9 306.6h0M276.2 303.2h0M283.9 295.9h0M279.8 299.2h0M279.2 303.9h0M282.8 291.7h0M279.1 302.9h0M279.4 295.7h0M278.9 291.7h0M272.6 307.4h0M278.8 301.1h0M271.9 309.3h0M284.4 283.1h0M273.9 304.7h0M278.4 295h0M281.7 294.9h0M280.6 300.2h0M253.9 297.5h0M254.8 299.2h0M256.6 290.7h0M258.9 290.7h0M258.1 284.3h0M259.2 281.3h0M260 282.1h0M247.9 256.9h0M289.3 265h0M295.6 278.6h0M286.4 281.8h0M285.1 280.7h0M286.8 290h0M271.3 309.5h0M271.3 308.8h0M270.5 308.7h0M272.1 308.7h0M271.3 307.9h0M269.6 307.9h0M273 307.9h0M268.8 307.2h0M273.8 307.2h0M271.3 307.2h0M270.3 306.8h0M272.3 306.8h0" stroke="#000" stroke-width="3.3" stroke-linecap="round" fill="none"/></g>
</g>
<g>
<rect x="380.5" y="225.2" width="133" height="128" fill="#fff" stroke="#d2d2d2" stroke-width="1"/>
<path d="M377.1 346.6h3.4M378.7 340.5h1.8M377.1 334.5h3.4M378.7 328.4h1.8M377.1 322.3h3.4M378.7 316.2h1.8M377.1 310.2h3.4M378.7 304.1h1.8M377.1 298h3.4M378.7 292h1.8M377.1 285.9h3.4M378.7 279.8h1.8M377.1 273.8h3.4M378.7 267.7h1.8M377.1 261.6h3.4M378.7 255.6h1.8M377.1 249.5h3.4M378.7 243.4h1.8M377.1 237.3h3.4M378.7 231.3h1.8M377.1 225.2h3.4M384 353.2v3.8M389.2 353.2v2.2M394.4 353.2v2.2M399.6 353.2v2.2M404.8 353.2v3.8M410 353.2v2.2M415.2 353.2v2.2M420.5 353.2v2.2M425.7 353.2v3.8M430.9 353.2v2.2M436.1 353.2v2.2M441.3 353.2v2.2M446.5 353.2v3.8M451.7 353.2v2.2M456.9 353.2v3.8M462.1 353.2v2.2M467.3 353.2v3.8M472.5 353.2v2.2M477.8 353.2v3.8M483 353.2v2.2M488.2 353.2v3.8M493.4 353.2v2.2M498.6 353.2v3.8M503.8 353.2v2.2M509 353.2v3.8" stroke="#bdbdbd" stroke-width="1" fill="none"/>
<text x="375.5" y="349.4" font-size="9.6" text-anchor="end" textLength="3.7" lengthAdjust="spacingAndGlyphs">0</text>
<text x="375.5" y="337.3" font-size="9.6" text-anchor="end" textLength="3.7" lengthAdjust="spacingAndGlyphs">2</text>
<text x="375.5" y="325.1" font-size="9.6" text-anchor="end" textLength="3.7" lengthAdjust="spacingAndGlyphs">4</text>
<text x="375.5" y="313" font-size="9.6" text-anchor="end" textLength="3.7" lengthAdjust="spacingAndGlyphs">6</text>
<text x="375.5" y="300.8" font-size="9.6" text-anchor="end" textLength="3.7" lengthAdjust="spacingAndGlyphs">8</text>
<text x="375.1" y="288.7" font-size="9.6" text-anchor="end" textLength="7.5" lengthAdjust="spacingAndGlyphs">10</text>
<text x="375.1" y="276.6" font-size="9.6" text-anchor="end" textLength="7.5" lengthAdjust="spacingAndGlyphs">12</text>
<text x="375.1" y="264.4" font-size="9.6" text-anchor="end" textLength="7.5" lengthAdjust="spacingAndGlyphs">14</text>
<text x="375.1" y="252.3" font-size="9.6" text-anchor="end" textLength="7.5" lengthAdjust="spacingAndGlyphs">16</text>
<text x="375.1" y="240.1" font-size="9.6" text-anchor="end" textLength="7.5" lengthAdjust="spacingAndGlyphs">18</text>
<text x="375.1" y="228" font-size="9.6" text-anchor="end" textLength="7.5" lengthAdjust="spacingAndGlyphs">20</text>
<text x="380.4" y="366.7" font-size="9.6" textLength="6" lengthAdjust="spacingAndGlyphs">-3</text>
<text x="401.2" y="366.7" font-size="9.6" textLength="6" lengthAdjust="spacingAndGlyphs">-2</text>
<text x="422.1" y="366.7" font-size="9.6" textLength="6" lengthAdjust="spacingAndGlyphs">-1</text>
<text x="444.6" y="366.7" font-size="9.6" textLength="3.7" lengthAdjust="spacingAndGlyphs">0</text>
<text x="452.2" y="366.7" font-size="9.6" textLength="9.3" lengthAdjust="spacingAndGlyphs">0.5</text>
<text x="465.5" y="366.7" font-size="9.6" textLength="3.7" lengthAdjust="spacingAndGlyphs">1</text>
<text x="473.1" y="366.7" font-size="9.6" textLength="9.3" lengthAdjust="spacingAndGlyphs">1.5</text>
<text x="486.3" y="366.7" font-size="9.6" textLength="3.7" lengthAdjust="spacingAndGlyphs">2</text>
<text x="493.9" y="366.7" font-size="9.6" textLength="9.3" lengthAdjust="spacingAndGlyphs">2.5</text>
<text x="507.1" y="366.7" font-size="9.6" textLength="3.7" lengthAdjust="spacingAndGlyphs">3</text>
<text x="403.5" y="376.4" font-size="9.6" textLength="81.2" lengthAdjust="spacingAndGlyphs">Diff of Trt = (stress)-(control)</text>
<text transform="translate(354.5 289.5) rotate(-90)" class="yl" x="-57.2" y="0" font-size="6.5" textLength="114.5" lengthAdjust="spacingAndGlyphs">-log10(p-value) for Diff of Trt =</text>
<text transform="translate(362.7 289.5) rotate(-90)" class="yl" x="-30.9" y="0" font-size="6.5" textLength="61.7" lengthAdjust="spacingAndGlyphs">(stress)-(control)</text>
<path d="M377.1 330.8H380.5M380.5 330.8H513.5" stroke="#f79ab4" stroke-width="1.9" stroke-dasharray="3.4 3.3" fill="none"/>
<clipPath id="cB3"><rect x="381" y="225.7" width="132" height="127"/></clipPath>
<g clip-path="url(#cB3)"><path transform="scale(1 1.12)" d="M436.9 289.8h0M436.7 302.5h0M434.6 298.9h0M432.2 282.6h0M438.3 274.7h0M443.7 298.2h0M436.1 294.3h0M434.7 300.8h0M441 296.8h0M429.9 273.6h0M434.2 271.1h0M437.3 283.2h0M441.8 293.3h0M438.2 277.2h0M433.5 278.2h0M438.2 291.8h0M441.6 302.2h0M439.7 280.7h0M439.5 289.2h0M426.3 261.2h0M440 282.4h0M445.6 308.2h0M433.9 293.5h0M432 273.1h0M442 290.9h0M436.9 284h0M440.4 284.3h0M435.2 288.6h0M431.3 267.3h0M429 260.5h0M437.7 299.8h0M433.4 289.8h0M442.8 302.2h0M441.1 286.9h0M441 301.3h0M433.2 287h0M432 264.8h0M441.2 303h0M443.1 295.2h0M442.6 293.9h0M439.9 285.2h0M434.1 296.5h0M433.3 292.2h0M436.1 274.6h0M436.6 298.7h0M444.8 302.9h0M440.4 291.1h0M427 271h0M437.9 285.8h0M430.9 294.1h0M433.4 260.6h0M429.8 268.6h0M443.3 303.5h0M438.8 299.2h0M435.4 262.1h0M440.2 295h0M435.4 282.8h0M429.3 282.3h0M439.6 284h0M437 272.5h0M434.6 289.4h0M438.5 288.1h0M441.4 288.1h0M440.6 285.8h0M435.5 269.6h0M437.1 293.5h0M436.1 293.1h0M435.3 265.6h0M438.7 298.3h0M443.5 297h0M439 300.5h0M435.9 290.5h0M433.7 258.3h0M442.8 306.8h0M431.8 274.6h0M429.2 275.5h0M439.2 297h0M426.9 280.3h0M426.1 262.1h0M435.9 285.5h0M442 298.3h0M444 307.1h0M442.1 296.8h0M434.9 273.4h0M436.8 277.6h0M433 287.8h0M435.3 275.7h0M436.3 266.5h0M429.3 263.9h0M433.7 257.4h0M444.5 301.8h0M431.7 291.3h0M433.6 280.6h0M437 288.4h0M432.2 290.3h0M436.8 269h0M440.5 288.3h0M435.5 276.6h0M435.2 278.2h0M437 285.1h0M437.4 275.1h0M434.9 283.6h0M429.8 277.5h0M432.1 289.3h0M436.1 297.5h0M445 307.4h0M430.1 270.8h0M437.6 281h0M435.7 280.7h0M439.2 291.3h0M432.2 276.9h0M428.2 287.4h0M430 292.1h0M426.7 258.8h0M434 287.6h0M441.1 298h0M434.1 288.5h0M439.8 304.1h0M432.7 277.8h0M432.7 272.1h0M427.9 259h0M432.2 280.4h0M434.7 264.9h0M429 270.2h0M438.2 284.1h0M428.1 257.8h0M436.4 291.6h0M438.8 282h0M443.1 304.6h0M433.4 265.4h0M437.6 302.3h0M430.4 260.9h0M429 289.2h0M441.6 294.8h0M427.7 284.7h0M441.6 290h0M435.4 287.8h0M441.9 295.7h0M432.7 284.2h0M444.5 304.3h0M431.2 280.6h0M435.7 263.2h0M438.4 286.8h0M442.2 299.9h0M435.9 271.2h0M425.8 272.2h0M438.3 303.2h0M427.8 261.9h0M437 286.7h0M438.5 296h0M436 272h0M432.2 261.2h0M433.8 261.6h0M439.7 287.3h0M437.8 273.1h0M440.2 295.9h0M431.6 293.1h0M434.8 260.6h0M434.1 291.4h0M423.9 260.8h0M436.7 268.1h0M438.7 285.3h0M434 283.3h0M440 298h0M442.6 292.8h0M430.6 275.5h0M439.6 290.2h0M438.3 278.6h0M432.8 259h0M433 288.7h0M439.1 302.2h0M440.6 289.2h0M436.1 299.6h0M427.2 263.4h0M438.9 294.5h0M440.2 292.8h0M444.7 305.4h0M439.1 279.8h0M434.7 290.3h0M444.1 299.7h0M441.1 291.6h0M429 266.6h0M436.8 274.1h0M436.8 276.8h0M437.9 294.1h0M433.1 290.8h0M435.5 284.3h0M436.9 278.8h0M436.5 280h0M428.3 256.7h0M432.4 295.5h0M428.8 274.2h0M424.3 258.3h0M424.9 261.8h0M433.3 281.7h0M432.9 294.1h0M441.1 294h0M431.3 265.7h0M429.1 291.5h0M440.8 299.1h0M438.8 292.6h0M427.6 277.4h0M434.2 259.7h0M430.6 279.9h0M434.6 295.5h0M430.9 292.2h0M433.7 276.4h0M429.7 258.1h0M426.4 274.6h0M445 306.3h0M429.8 287.6h0M439.4 303h0M444.1 300.8h0M439.8 286.1h0M439.2 283.1h0M434.2 263.7h0M432.9 283.4h0M425.3 257.8h0M427.7 274.3h0M433.9 272.1h0M436.8 292.5h0M426.7 272.6h0M435.5 296.9h0M431.2 288.5h0M430 269.8h0M439.2 279h0M434 284.5h0M441.7 289h0M432.9 269.8h0M436.8 270h0M434.5 277.3h0M435.4 301.3h0M443.6 305.4h0M435.2 263.9h0M430.6 258.6h0M433.9 272.9h0M440 300.5h0M431.6 258.7h0M430.9 287.2h0M429.6 262h0M434.1 298.1h0M435.5 286.4h0M437.5 271.1h0M436.4 300.9h0M427.3 281h0M428.3 286.4h0M431 273.2h0M431.8 281.7h0M433.3 267.2h0M428.4 283.6h0M429.4 290.5h0M438 295.1h0M426.2 267.7h0M442.2 303.4h0M428.5 273h0M429.7 264.6h0M432.7 296.5h0M441.1 306.1h0M434.2 266.6h0M443.1 296h0M438.4 290h0M433 298.3h0M437.2 300.5h0M437.2 297.4h0M430.2 257.3h0M424.8 262.7h0M430.3 282.1h0M438.1 290.8h0M436.3 282.5h0M441.1 305.2h0M434.3 299.8h0M435.8 281.7h0M433.4 268.6h0M426.4 276h0M437 295.2h0M426.5 278.5h0M435.6 267.8h0M441.4 300.4h0M438.6 275.6h0M430.1 288.8h0M430.3 266.6h0M428 280.1h0M456 282.2h0M450.6 304.7h0M457.4 299h0M458.5 299.8h0M464.5 278.3h0M459.8 279.4h0M463.3 289.7h0M452.9 299.8h0M466.9 268.1h0M461.9 292.1h0M460.9 284.6h0M462.4 277.9h0M459.4 281.6h0M448.1 307.3h0M459.4 275.5h0M463.4 261.4h0M453.5 303.2h0M458.4 293h0M464.4 267.5h0M464.9 271.9h0M459.6 278.6h0M451.7 301h0M455.9 294.6h0M465.9 259.5h0M452 295.1h0M459.1 285.4h0M457.2 288.1h0M448.6 303.6h0M462.4 286.6h0M448.3 306h0M462.6 280.3h0M461.8 268.2h0M461 293.1h0M461.7 290.6h0M460 292.9h0M456.8 297.2h0M456.3 286.5h0M452.7 298.6h0M455.2 299.7h0M455.3 293.2h0M461.2 285.8h0M454.7 287.9h0M455 288.7h0M458.5 295.7h0M457.7 294.3h0M467.5 263.7h0M449.9 300h0M452.6 293.6h0M450.1 302.9h0M463.6 266h0M459.6 282.5h0M460.1 295.4h0M452.3 296.9h0M468.1 259.5h0M456.1 300.5h0M453.2 290.6h0M453.5 289.1h0M450.3 303.7h0M453.6 297.3h0M449.5 305.6h0M451 300.1h0M466.3 261.4h0M461.8 284.8h0M455.8 284.4h0M456.7 301.2h0M462.1 273.2h0M453 300.6h0M456 292.1h0M465.1 268.5h0M464.1 281.7h0M450.8 297.4h0M459.9 290h0M465.8 265.3h0M459.1 287.1h0M451.5 299h0M458.7 273.6h0M449.5 306.8h0M463.3 285.4h0M455.6 290h0M459.7 291.9h0M454.4 303.3h0M469.2 261.8h0M460.6 280.7h0M453.4 294h0M466.9 262.5h0M450.4 298.8h0M457.4 287.1h0M446.6 309.3h0M458.5 296.7h0M461.9 264.7h0M456.1 288.6h0M455.2 297.7h0M458.8 288.9h0M464.8 277h0M461.5 263.4h0M467.9 260.7h0M468.6 257.6h0M459.2 271.5h0M458.9 294.5h0M463.4 288.2h0M462.2 262.1h0M461.6 287.4h0M458.9 297.5h0M462.7 263.8h0M464.1 257.1h0M455.7 287.6h0M454.1 298.2h0M459.8 268.5h0M469.3 256.8h0M458.6 277.7h0M454.8 294.5h0M456.4 281.1h0M457.2 285.6h0M458.6 291h0M458.8 272.4h0M462.4 288.1h0M457.2 295.1h0M453.1 304.3h0M463.9 262.9h0M466 269.2h0M465.2 257.3h0M449.5 300.8h0M459.6 269.3h0M461.2 278.8h0M463.2 269.4h0M461.7 276.7h0M458.1 284.7h0M453 296.1h0M447.1 307.9h0M463.5 271.6h0M464.4 258.1h0M456.2 299.4h0M456.2 295.8h0M460.3 282h0M454.6 292.5h0M464.6 280.6h0M454.6 290.4h0M460.9 294.7h0M459.2 283.8h0M461.1 288.1h0M463.8 283.3h0M454.4 302.4h0M452.9 291.8h0M464.7 265.6h0M449.9 301.8h0M457.6 277.6h0M469.9 258.6h0M461.7 269.8h0M455.7 302.7h0M454.6 295.8h0M461.1 266.4h0M460.8 265.4h0M469.5 260.8h0M457.4 289.9h0M451.7 297.8h0M462.7 281.3h0M453.9 291.4h0M458.7 282.5h0M455.8 283.5h0M458.7 290.1h0M464.3 272.8h0M465.3 263.1h0M462.3 283.5h0M452 296.2h0M460.6 275.5h0M460.4 272.7h0M463 274.2h0M463.7 264.6h0M459.5 270.3h0M462.1 288.9h0M457.3 283h0M460.2 293.7h0M455.2 300.8h0M465.8 266.6h0M463.4 287.3h0M462.6 291.5h0M460.1 288h0M458.4 286.3h0M454.1 301.5h0M463.6 274.9h0M462.4 293.4h0M462.8 279.3h0M458.6 287.8h0M458 276.6h0M458.5 275.2h0M460.5 277.3h0M457.8 278.5h0M460.9 271.4h0M466.2 270.2h0M463.9 284.3h0M452.4 301.6h0M457.8 292.2h0M462 260.9h0M463.8 280.3h0M457.6 296h0M462 274.2h0M451.4 302h0M451.1 296.3h0M454.7 285.8h0M451.8 303.2h0M460.7 264.4h0M466.3 271.6h0M463.4 286.4h0M459.7 291.1h0M462.7 259h0M456 285.3h0M450.8 305.7h0M464.5 258.9h0M428.5 235.2h0M429.2 254.1h0M426.8 235h0M422.8 249.4h0M427.5 239.7h0M427.6 251.8h0M428.7 239.1h0M423.4 254.8h0M422.6 251.9h0M427.3 253h0M426.9 242.8h0M430.2 247.5h0M424.3 249.5h0M428.4 202.7h0M415.9 207.3h0M419.8 211.4h0M416.1 214.6h0M417.3 219.5h0M423.6 222.8h0M410.5 227.6h0M426.1 227.1h0M427.8 228.2h0M429.2 229.3h0M421.1 230.9h0M421.5 233h0M427.8 230.9h0M429.2 235.2h0M431.7 237.4h0M415.5 239h0M424.2 238.5h0M425.5 237.4h0M433 238.5h0M434.2 240.6h0M420.5 242.3h0M424.2 243.3h0M426.7 245h0M430.5 242.3h0M431.7 246.1h0M433 247.1h0M415.9 247.7h0M424.2 247.7h0M426.7 248.8h0M429.2 249.8h0M425.5 252h0M428 253.1h0M430.5 250.9h0M431.7 252.6h0M418 255.3h0M415.9 256.4h0M423 254.7h0M426.7 255.3h0M429.2 255.8h0M431.7 255.3h0M434.2 255.3h0M476.1 210.8h0M471.1 215.7h0M476.9 214.6h0M492.3 224.4h0M478.6 227.6h0M463.6 234.7h0M457.3 249.8h0M461.1 251.5h0M459.8 255.8h0M463.2 255.3h0M468.2 256.4h0M471.9 255.8h0M414.8 285.6h0M423.6 288.9h0M426.1 288.9h0M426.7 294.8h0M472.3 285.1h0M466.9 282.4h0M446.5 309.5h0M446.5 308.8h0M445.7 308.7h0M447.3 308.7h0M446.5 307.9h0M444.8 307.9h0M448.2 307.9h0M444 307.2h0M449 307.2h0M446.5 307.2h0M445.5 306.8h0M447.5 306.8h0" stroke="#000" stroke-width="3.3" stroke-linecap="round" fill="none"/></g>
</g>
<g>
<rect x="550.5" y="225.2" width="134" height="128" fill="#fff" stroke="#d2d2d2" stroke-width="1"/>
<path d="M547.1 346.6h3.4M548.7 340.5h1.8M547.1 334.5h3.4M548.7 328.4h1.8M547.1 322.3h3.4M548.7 316.2h1.8M547.1 310.2h3.4M548.7 304.1h1.8M547.1 298h3.4M548.7 292h1.8M547.1 285.9h3.4M548.7 279.8h1.8M547.1 273.8h3.4M548.7 267.7h1.8M547.1 261.6h3.4M548.7 255.6h1.8M547.1 249.5h3.4M548.7 243.4h1.8M547.1 237.3h3.4M548.7 231.3h1.8M547.1 225.2h3.4M554 353.2v3.8M559.2 353.2v2.2M564.5 353.2v2.2M569.8 353.2v2.2M575 353.2v3.8M580.2 353.2v2.2M585.5 353.2v2.2M590.8 353.2v2.2M596 353.2v3.8M601.2 353.2v2.2M606.5 353.2v2.2M611.8 353.2v2.2M617 353.2v3.8M622.2 353.2v2.2M627.5 353.2v3.8M632.8 353.2v2.2M638 353.2v3.8M643.2 353.2v2.2M648.5 353.2v3.8M653.8 353.2v2.2M659 353.2v3.8M664.2 353.2v2.2M669.5 353.2v3.8M674.8 353.2v2.2M680 353.2v3.8" stroke="#bdbdbd" stroke-width="1" fill="none"/>
<text x="545.5" y="349.4" font-size="9.6" text-anchor="end" textLength="3.7" lengthAdjust="spacingAndGlyphs">0</text>
<text x="545.5" y="337.3" font-size="9.6" text-anchor="end" textLength="3.7" lengthAdjust="spacingAndGlyphs">2</text>
<text x="545.5" y="325.1" font-size="9.6" text-anchor="end" textLength="3.7" lengthAdjust="spacingAndGlyphs">4</text>
<text x="545.5" y="313" font-size="9.6" text-anchor="end" textLength="3.7" lengthAdjust="spacingAndGlyphs">6</text>
<text x="545.5" y="300.8" font-size="9.6" text-anchor="end" textLength="3.7" lengthAdjust="spacingAndGlyphs">8</text>
<text x="545.1" y="288.7" font-size="9.6" text-anchor="end" textLength="7.5" lengthAdjust="spacingAndGlyphs">10</text>
<text x="545.1" y="276.6" font-size="9.6" text-anchor="end" textLength="7.5" lengthAdjust="spacingAndGlyphs">12</text>
<text x="545.1" y="264.4" font-size="9.6" text-anchor="end" textLength="7.5" lengthAdjust="spacingAndGlyphs">14</text>
<text x="545.1" y="252.3" font-size="9.6" text-anchor="end" textLength="7.5" lengthAdjust="spacingAndGlyphs">16</text>
<text x="545.1" y="240.1" font-size="9.6" text-anchor="end" textLength="7.5" lengthAdjust="spacingAndGlyphs">18</text>
<text x="545.1" y="228" font-size="9.6" text-anchor="end" textLength="7.5" lengthAdjust="spacingAndGlyphs">20</text>
<text x="550.4" y="366.7" font-size="9.6" textLength="6" lengthAdjust="spacingAndGlyphs">-3</text>
<text x="571.4" y="366.7" font-size="9.6" textLength="6" lengthAdjust="spacingAndGlyphs">-2</text>
<text x="592.4" y="366.7" font-size="9.6" textLength="6" lengthAdjust="spacingAndGlyphs">-1</text>
<text x="615.1" y="366.7" font-size="9.6" textLength="3.7" lengthAdjust="spacingAndGlyphs">0</text>
<text x="622.8" y="366.7" font-size="9.6" textLength="9.3" lengthAdjust="spacingAndGlyphs">0.5</text>
<text x="636.1" y="366.7" font-size="9.6" textLength="3.7" lengthAdjust="spacingAndGlyphs">1</text>
<text x="643.8" y="366.7" font-size="9.6" textLength="9.3" lengthAdjust="spacingAndGlyphs">1.5</text>
<text x="657.1" y="366.7" font-size="9.6" textLength="3.7" lengthAdjust="spacingAndGlyphs">2</text>
<text x="664.8" y="366.7" font-size="9.6" textLength="9.3" lengthAdjust="spacingAndGlyphs">2.5</text>
<text x="678.1" y="366.7" font-size="9.6" textLength="3.7" lengthAdjust="spacingAndGlyphs">3</text>
<text x="585.6" y="376.4" font-size="9.6" textLength="60.4" lengthAdjust="spacingAndGlyphs">Diff of TP = (72)-(24)</text>
<text transform="translate(524.5 289.5) rotate(-90)" class="yl" x="-57.2" y="0" font-size="6.5" textLength="114.4" lengthAdjust="spacingAndGlyphs">-log10(p-value) for Diff of TP =</text>
<text transform="translate(532.7 289.5) rotate(-90)" class="yl" x="-14.6" y="0" font-size="6.5" textLength="29.2" lengthAdjust="spacingAndGlyphs">(72)-(24)</text>
<path d="M547.1 327.9H550.5M550.5 327.9H684.5" stroke="#e89bb0" stroke-width="1.5" stroke-dasharray="3.4 3.3" fill="none"/>
<clipPath id="cB4"><rect x="551" y="225.7" width="133" height="127"/></clipPath>
<g clip-path="url(#cB4)"><path transform="scale(1 1.12)" d="M589.1 298.5h0M614.8 307.9h0M589.2 294h0M599.2 305h0M572 294.3h0M575.4 300.3h0M580.3 303.3h0M597.4 300.9h0M611.9 306.9h0M578.5 296.2h0M606.9 301.3h0M607.4 300.2h0M605.1 308.7h0M583.4 293.4h0M583.3 298.3h0M609 303.7h0M613.1 306.4h0M585.9 295h0M582 295.2h0M601.9 307.3h0M599.4 298.9h0M605.9 305.7h0M591.6 304h0M576.6 301.9h0M571.1 298.3h0M580.5 301.3h0M591.7 300.4h0M591.9 301.2h0M590 296.5h0M602 306h0M596.3 292h0M590.2 292.2h0M600.1 296.2h0M574.4 301.3h0M597.7 306.8h0M602.6 300.8h0M572.8 292.8h0M586.5 301.8h0M611.3 308.4h0M604.8 302.3h0M588.1 291.5h0M588.9 306.1h0M593.4 297.1h0M593.5 298.4h0M578.3 297.5h0M571.5 304h0M591.2 305.7h0M573 301.3h0M591.3 298.7h0M581.9 304h0M586.7 305.3h0M594.1 295.1h0M583.2 302.2h0M614.4 306.7h0M577.1 292.2h0M601.7 304.1h0M575.3 297.3h0M613.3 308.1h0M612.5 309.2h0M611.3 304.2h0M596 305.7h0M607.4 307h0M588 299.1h0M580.9 295.8h0M606.7 304h0M571.2 297.4h0M578.2 304.3h0M598.5 291.5h0M595.1 305.4h0M586.6 306.5h0M580.4 297.6h0M574.7 298.5h0M590.7 293.4h0M583.6 299.8h0M587.7 294.1h0M570 297.6h0M613.8 308.8h0M582.4 299.9h0M610.5 302.9h0M601.3 301h0M602.1 295.1h0M572.8 299.1h0M585.5 301.2h0M572.3 297h0M598.9 297.3h0M611.4 305.5h0M613.6 307.4h0M578.1 295.4h0M589.9 295.1h0M579.7 298.9h0M580.9 304h0M583.5 304.5h0M589.8 305.8h0M616.1 309.2h0M587.3 298.1h0M572.6 295.3h0M573.4 302.9h0M589.3 297.1h0M601.8 298.5h0M588.1 304.3h0M608.2 302.4h0M572.3 302h0M596.6 307.3h0M576.8 298.2h0M610 308.7h0M600.8 297.2h0M603.5 308.4h0M605.3 300.7h0M581.4 298.4h0M577.4 301.7h0M593.9 306.2h0M597.7 295.7h0M579 300.9h0M579.3 297.1h0M604.3 306.2h0M615.4 308.5h0M614.7 309.1h0M590.6 302.5h0M580.4 302.3h0M585.5 302.5h0M610 303.8h0M584.4 304h0M602.2 301.9h0M584.5 302.7h0M580.4 305.1h0M608.8 306.7h0M583.9 297.5h0M576.6 299.8h0M574 299.6h0M586.5 292.9h0M589.3 305.1h0M599.7 306.5h0M603.5 300.8h0M596 303.4h0M577.7 303h0M604.2 307.7h0M596.5 304.2h0M585 300h0M617 309.2h0M600 302.2h0M606.3 302.2h0M588.3 300.2h0M593.2 305.6h0M596.9 303.2h0M578.3 299.7h0M609.5 307.8h0M597.8 304.4h0M605.6 307.4h0M593.4 303.6h0M577.2 296.9h0M600.5 294.9h0M600.5 307.6h0M580.2 292.2h0M579.4 303.5h0M608.1 305.5h0M600.8 304.1h0M592.5 293.2h0M598.2 296.4h0M601.2 305.6h0M584.2 292h0M592.3 306.9h0M585.5 297.4h0M572.3 303.2h0M572.7 300.3h0M576.9 304.6h0M591.7 296.2h0M597.9 293.7h0M585.4 305h0M573 298.1h0M598.6 307.9h0M604.9 297.5h0M569.9 301.6h0M608.5 308.8h0M602.3 296.3h0M581.3 300.9h0M598.9 295.2h0M597 297.7h0M584.4 293.7h0M589.9 300.1h0M576.8 303.6h0M599.8 303.9h0M594.2 307h0M603.6 303.5h0M575.3 293.7h0M587.3 303.8h0M573 294h0M588.9 292.8h0M594.2 294h0M576.9 300.7h0M573.8 294.3h0M607.6 308.4h0M590.5 304.4h0M609.9 306.9h0M597.9 297.3h0M598.8 303.8h0M593 299.9h0M581.7 292.3h0M581.5 299.5h0M598.7 306h0M587.4 300.5h0M586.3 298.5h0M610.8 309.1h0M603.9 297.4h0M586.4 303.5h0M586.2 296.6h0M591.4 306.7h0M612.2 308h0M606.1 300.1h0M591.7 303.1h0M595.2 299.5h0M596.9 295h0M595 300.4h0M574.5 304.7h0M592.5 294.7h0M591.4 292.9h0M586.5 297.5h0M592 291.7h0M579.3 292h0M581.4 293.3h0M612.3 305.1h0M577.6 294.1h0M575.2 302.4h0M603.3 296.7h0M595.3 293h0M598 299.9h0M601.1 293h0M604.6 301.3h0M574.8 303.9h0M589.5 302.1h0M583.4 295.8h0M583.6 306h0M579.2 294.6h0M605.5 304.9h0M571.4 295.5h0M570.9 299.5h0M578.2 292.5h0M583.6 291.3h0M587.4 302.7h0M581.4 304.8h0M570.9 302.6h0M595.4 301.2h0M575.1 295.7h0M606.1 299.1h0M598.4 303h0M598.5 301.7h0M579.2 299.9h0M596.6 294h0M581.6 296.5h0M601 299.2h0M591.9 305.2h0M573 303.7h0M582.6 305.4h0M576.2 294.8h0M601.8 291.9h0M604.2 299.5h0M589 292h0M573.8 297.2h0M595.9 296.9h0M570.2 300.6h0M598.5 292.4h0M582.2 302.9h0M594.3 304.5h0M583.7 303.2h0M584.9 295.4h0M573.3 296.5h0M609.5 302.6h0M602.4 292.5h0M580.7 294.8h0M569.9 299.5h0M588.4 296.9h0M579.5 296.1h0M571.6 300.6h0M594.1 292h0M586.6 300.8h0M595.2 307.2h0M574 295.4h0M604.3 305.3h0M598.8 298.3h0M570.6 303.6h0M605.2 298.8h0M603.1 302.5h0M595.1 303.1h0M599.4 299.8h0M610.5 308h0M585.5 305.9h0M610.8 306.1h0M605.7 303.7h0M606.2 308.8h0M586.6 291.7h0M594.2 300.9h0M595.1 291.7h0M603.8 301.7h0M606.7 304.8h0M589.8 291.2h0M608.9 301.3h0M591.5 295.2h0M589.4 301.1h0M597.2 299h0M577.5 305.2h0M590.1 297.7h0M575.9 303.2h0M569.8 295.2h0M606.9 303h0M603 295.4h0M599.3 300.8h0M574.9 292.8h0M579.9 293.5h0M596.3 299.7h0M575.7 298.6h0M585.8 291.3h0M609 305.7h0M595.4 297.9h0M609.4 304.8h0M607.8 303.3h0M584.5 301.5h0M596.2 298.4h0M607 306.2h0M588.9 299.4h0M603.3 307h0M571.7 296.3h0M569.8 293.6h0M579.2 304.9h0M587.6 295.2h0M591.3 294h0M589 296h0M576.3 293.4h0M593.6 299.3h0M601 293.9h0M575.8 301.3h0M606 301.3h0M569.8 302.6h0M608.1 304.2h0M605.3 306.6h0M595.2 295.9h0M600.6 291.9h0M602.5 303.2h0M590.2 303.3h0M592.2 297.2h0M588.4 301.5h0M579.3 292.9h0M595.5 302.1h0M585.1 298.4h0M597.6 292h0M591.7 302.1h0M595.2 304.3h0M589.9 299.2h0M588.5 302.8h0M601.1 302.1h0M581.7 301.8h0M585 292.6h0M587.7 305.5h0M597.4 302.2h0M600.4 305.1h0M599.1 293.2h0M572.1 298.1h0M592.5 298.5h0M595 306.3h0M595.2 294.5h0M600.2 297.9h0M585.5 293.7h0M583 292.4h0M574.6 296.8h0M610.8 307.1h0M587.1 298.9h0M571 293.3h0M599.7 293.9h0M589.2 303.5h0M573.8 292.5h0M590.8 300.8h0M587.5 296.2h0M608.6 307.7h0M575.8 304.4h0M594 293.1h0M593.2 302.4h0M577.9 293.3h0M604.8 303.2h0M586.2 304.3h0M591.1 298h0M581 305.7h0M610.3 305.4h0M601.6 308.1h0M573.8 300.6h0M583.1 300.6h0M571.6 298.9h0M583.2 294.2h0M590.9 291.5h0M594.3 303.6h0M588.3 297.9h0M599.4 303h0M598.7 294.4h0M583.9 298.9h0M594.5 297.8h0M588.9 294.9h0M572.1 293.4h0M570.4 296.6h0M586.8 293.7h0M602.8 304.5h0M577.2 299.1h0M584 296.6h0M579.2 298.1h0M604.2 304.2h0M606.2 306.8h0M579.4 302.4h0M603 306h0M582.4 298h0M573.5 304.5h0M603 299.3h0M604.7 300.1h0M600.5 303.1h0M606.7 308h0M596.9 305.5h0M593.4 291.2h0M595.9 291.2h0M593 304.8h0M600.5 300.2h0M584.1 305.2h0M574.3 293.6h0M576.6 295.5h0M582.3 298.8h0M578.6 301.9h0M576.4 297.4h0M584.7 306.3h0M582.5 295.9h0M574 302.3h0M600.6 306.5h0M579.9 300.6h0M574.7 294.5h0M587.7 292.6h0M578.9 293.7h0M592.9 301.6h0M595 298.6h0M570.4 294.2h0M575.2 299.4h0M601.8 297.2h0M582.2 300.8h0M586 299.5h0M596.1 295.4h0M594.7 296.7h0M594.6 301.7h0M578.4 305.4h0M571.3 301.5h0M590.8 295.9h0M599.4 291.6h0M594 300h0M576.2 292.1h0M602 300.2h0M584.8 291.4h0M586.6 295.7h0M582.7 297.1h0M597.4 307.7h0M590.1 306.7h0M581.7 297.5h0M596.4 301h0M604.2 298.2h0M582.8 303.6h0M593 292.1h0M597.8 305.4h0M575.7 296.3h0M602.6 308h0M590.3 301.5h0M581.8 294.3h0M603.1 298.1h0M605.8 298h0M600.1 292.6h0M582.6 291.4h0M613.2 305.5h0M597.1 292.6h0M578 300.6h0M593.2 307h0M598.3 299h0M584.5 294.5h0M602.9 294.3h0M586.7 294.8h0M597.1 300.1h0M585.2 303.3h0M581.2 302.9h0M592.6 303.9h0M601.3 296.2h0M587.7 306.4h0M585.5 296h0M590.8 297h0M596.5 302h0M594.3 302.6h0M592.1 299.4h0M579.8 295.2h0M593.4 295.7h0M582.5 293.5h0M601.9 305.1h0M588.3 293.5h0M592.7 300.7h0M596 306.6h0M602.8 293.3h0M577.4 296.1h0M591.1 299.6h0M594.1 305.3h0M593.4 294.3h0M585.9 292.2h0M595.6 293.8h0M579.9 304.3h0M605.6 302.8h0M608.4 300.6h0M592.1 306h0M597.2 296.5h0M581 291.7h0M599.5 307.4h0M599.2 296.1h0M571.2 294.7h0M597.8 298.3h0M580.8 294h0M598.3 300.7h0M577.7 298.5h0M573.7 298.9h0M596.3 293h0M601.5 302.9h0M596.9 291.3h0M572 299.7h0M600.3 301.3h0M580.4 296.8h0M599.8 297h0M610.5 304.6h0M580.6 299.2h0M579.6 301.6h0M567.5 298h0M563.3 295.1h0M563.1 294.3h0M565.4 298h0M568.7 297.7h0M564.2 297.8h0M564.3 294.9h0M566.1 298.7h0M569.1 300.2h0M566.4 295.6h0M565.4 294.8h0M567 296.8h0M567.3 299.8h0M568.5 293.7h0M565.3 299.4h0M568.4 298.9h0M567.4 294.1h0M565.9 300.2h0M598.7 287.3h0M593.3 289h0M587.8 288.6h0M586.8 288h0M603.5 292.5h0M594.7 288.7h0M573.3 291.2h0M588.8 287.1h0M585.6 286.2h0M580.8 287.2h0M596.4 288.4h0M582.4 287.4h0M575.7 288.2h0M577.2 291h0M587 290.6h0M569.5 294.4h0M571.9 290.7h0M598.8 289.5h0M583.1 290.3h0M566 293h0M601.5 291.1h0M570.8 291.1h0M572.8 289.5h0M594.9 290h0M583.1 288.4h0M600.1 290.4h0M566.2 294.4h0M574.8 288.5h0M603.1 291.6h0M568.9 292.8h0M576.4 290.6h0M589.1 290h0M566.1 290.9h0M566 292.1h0M581.4 288.1h0M569.5 290.7h0M574.3 289.9h0M591.6 286.2h0M596.5 286.6h0M584.5 288.8h0M590 290.2h0M570.1 292.2h0M579.5 290.2h0M581.7 289.4h0M580.6 290.5h0M597.8 290.7h0M587.2 286.3h0M623.5 301.6h0M620.4 308.9h0M631.3 307.4h0M620.4 306.1h0M618.2 307.8h0M631.5 306h0M632.7 298.5h0M628.2 302.8h0M618.1 308.6h0M627.1 304.4h0M629.3 302.2h0M623.3 305.9h0M632.6 307h0M619.6 308.3h0M624.5 304.2h0M627 303.4h0M632.2 304.3h0M629.4 304h0M632.7 303.3h0M621.8 304.4h0M629.3 306.3h0M622.5 308.6h0M628 297.7h0M631.7 303h0M621 307.5h0M631.1 303.9h0M626.4 306.4h0M627.3 300.9h0M625.5 305.4h0M624.5 303.4h0M618.9 307.1h0M628 303.9h0M631.4 297.1h0M630 305.6h0M630.7 303.2h0M626.5 298.2h0M630.8 306.5h0M628.7 305h0M628.5 295.9h0M625.7 303.7h0M630.7 298.4h0M625.3 302.5h0M624.7 307.1h0M627.7 298.8h0M626 308.1h0M624.3 301.1h0M627.4 306.6h0M622.4 307.1h0M626.1 299.8h0M621 304.8h0M621.4 308.7h0M621.7 306.2h0M627.1 300h0M629.4 307.6h0M630.3 296.2h0M630.2 304.7h0M627.9 305.3h0M624.1 302.5h0M625.3 301.3h0M622.4 305.6h0M631.1 305.1h0M630.1 297.7h0M631.8 298h0M623.6 304.8h0M629.8 300h0M623.3 307.9h0M626.6 301.6h0M627.5 301.9h0M632.3 300.2h0M622.2 307.9h0M618.8 309.2h0M629.1 298.4h0M624.2 308.3h0M631 299.6h0M631.5 301.3h0M619.9 307.5h0M629.3 301.2h0M619.8 305.4h0M622.9 303.4h0M623.3 300.7h0M622 303.2h0M628.4 307.2h0M621.3 303.7h0M627.2 308h0M622.3 302.4h0M629.5 303h0M624.3 305.4h0M625.5 304.5h0M629.1 297.5h0M625.4 300.5h0M619.4 306.1h0M630.8 300.6h0M632.7 297.2h0M628.8 299.3h0M625.7 307h0M623.6 306.9h0M627.3 297.1h0M628.2 301h0M624.1 300.1h0M625.6 298.8h0M630.7 301.7h0M627.1 302.6h0M630.1 307.2h0M628.9 300.1h0M632.5 302.5h0M626.5 305.5h0M625 306.3h0M635.9 305.3h0M634.2 306.6h0M644.1 303.9h0M638 299.2h0M636.6 301.8h0M638.7 305.5h0M640.3 300.4h0M645.1 300h0M639.3 304.8h0M646.5 302.6h0M634.1 305.6h0M642.7 302.2h0M635 306h0M635.7 302.8h0M645.2 303.2h0M634.7 303h0M640.3 304.9h0M637.4 305.8h0M641 302.4h0M637.6 301.7h0M638 300.4h0M641.7 304.1h0M641.1 301.1h0M641.1 299.8h0M633.9 301.1h0M637.9 303.6h0M645.4 301.1h0M642.9 298.1h0M636.5 304.7h0M640.3 301.6h0M638.3 302.4h0M639 300.8h0M644.4 302.6h0M634 304h0M635.4 303.8h0M635.3 301.2h0M636.6 300.3h0M633.1 305h0M642.5 300.1h0M643.2 303h0M633.5 302.5h0M639.6 303.9h0M639.9 303h0M645.3 302.1h0M636.9 303.9h0M643.2 304h0M642 303.2h0M638.4 304.5h0M577.5 273.2h0M579.2 270.4h0M588 267.5h0M579.8 279.1h0M588.6 285.1h0M591.8 285.1h0M597.7 285.2h0M569.3 289.6h0M575.8 288.7h0M581.3 278h0M588.2 265h0M589.5 270.4h0M595 266.6h0M594.5 273.7h0M598.3 278h0M587 279.4h0M592 280.2h0M600.8 279.7h0M571.6 284.3h0M573.7 284.3h0M580.7 284h0M599.6 285.6h0M602.9 286.2h0M564.5 292.1h0M562.8 294.3h0M642.6 286.7h0M651.4 285.9h0M657.3 284h0M647.7 290h0M650.2 290h0M655.2 291.6h0M642.6 291.6h0M660.3 292.7h0M663.2 293.2h0M650.2 295.4h0M659 296.5h0M661.5 297.5h0M668.7 297.2h0M655.2 303.2h0M662.8 301.9h0M665.3 301.3h0M650.2 298.6h0M683.6 297.2h0M646.4 300.8h0M646.4 295.9h0M653.8 293.7h0M654.8 287.5h0M627.9 293.5h0M631.3 292.4h0M617 309.5h0M614.9 309.3h0M619.1 309.3h0" stroke="#000" stroke-width="3.3" stroke-linecap="round" fill="none"/></g>
</g>
<text class="t" x="2.2" y="12" font-size="13.4">A</text>
<text class="t" x="10" y="206.3" font-size="13">B</text>
<text class="t" x="322.5" y="8.6" font-size="12" textLength="63.6" lengthAdjust="spacingAndGlyphs">Leaf Tissue</text>
<path d="M322.5 10.8H386" stroke="#222" stroke-width="1.3"/>
<text class="t" x="322.1" y="203.4" font-size="12.5" textLength="65" lengthAdjust="spacingAndGlyphs">Root Tissue</text>
<path d="M322 205.6H387.2" stroke="#222" stroke-width="1.3"/>
</svg></body></html>
